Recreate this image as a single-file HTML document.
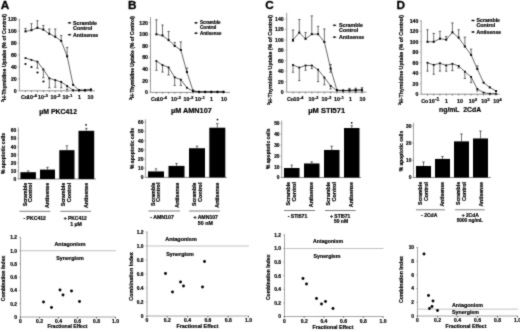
<!DOCTYPE html>
<html><head><meta charset="utf-8"><style>
html,body{margin:0;padding:0;background:#fff;}
svg{display:block;font-family:"Liberation Sans",sans-serif;}
</style></head><body>
<svg width="520" height="332" viewBox="0 0 520 332">
<defs><filter id="b" x="0" y="0" width="520" height="332" filterUnits="userSpaceOnUse" color-interpolation-filters="sRGB"><feConvolveMatrix order="3" kernelMatrix="0.4 1 0.4 1 7 1 0.4 1 0.4" divisor="12.6" edgeMode="duplicate" preserveAlpha="true"/></filter></defs>
<rect width="520" height="332" fill="#fff"/>
<g filter="url(#b)">
<rect width="520" height="332" fill="#fff"/>
<line x1="19.4" y1="18.8" x2="19.4" y2="90.8" stroke="#666" stroke-width="0.65"/>
<line x1="19.4" y1="90.8" x2="95" y2="90.8" stroke="#555" stroke-width="0.65"/>
<line x1="18.2" y1="90.8" x2="19.4" y2="90.8" stroke="#666" stroke-width="0.5"/>
<text x="16.7" y="92.64999999999999" font-size="5.2" text-anchor="end" font-weight="bold" fill="#000" stroke="#000" stroke-width="0.2">0</text>
<line x1="18.2" y1="78.92" x2="19.4" y2="78.92" stroke="#666" stroke-width="0.5"/>
<text x="16.7" y="80.77" font-size="5.2" text-anchor="end" font-weight="bold" fill="#000" stroke="#000" stroke-width="0.2">20</text>
<line x1="18.2" y1="67.03999999999999" x2="19.4" y2="67.03999999999999" stroke="#666" stroke-width="0.5"/>
<text x="16.7" y="68.88999999999999" font-size="5.2" text-anchor="end" font-weight="bold" fill="#000" stroke="#000" stroke-width="0.2">40</text>
<line x1="18.2" y1="55.16" x2="19.4" y2="55.16" stroke="#666" stroke-width="0.5"/>
<text x="16.7" y="57.01" font-size="5.2" text-anchor="end" font-weight="bold" fill="#000" stroke="#000" stroke-width="0.2">60</text>
<line x1="18.2" y1="43.28" x2="19.4" y2="43.28" stroke="#666" stroke-width="0.5"/>
<text x="16.7" y="45.13" font-size="5.2" text-anchor="end" font-weight="bold" fill="#000" stroke="#000" stroke-width="0.2">80</text>
<line x1="18.2" y1="31.4" x2="19.4" y2="31.4" stroke="#666" stroke-width="0.5"/>
<text x="16.7" y="33.25" font-size="5.2" text-anchor="end" font-weight="bold" fill="#000" stroke="#000" stroke-width="0.2">100</text>
<line x1="18.2" y1="19.519999999999996" x2="19.4" y2="19.519999999999996" stroke="#666" stroke-width="0.5"/>
<text x="16.7" y="21.369999999999997" font-size="5.2" text-anchor="end" font-weight="bold" fill="#000" stroke="#000" stroke-width="0.2">120</text>
<line x1="25.5" y1="90.8" x2="25.5" y2="92.1" stroke="#000" stroke-width="0.5"/>
<line x1="31.45" y1="90.8" x2="31.45" y2="92.1" stroke="#000" stroke-width="0.5"/>
<line x1="37.4" y1="90.8" x2="37.4" y2="92.1" stroke="#000" stroke-width="0.5"/>
<line x1="43.35" y1="90.8" x2="43.35" y2="92.1" stroke="#000" stroke-width="0.5"/>
<line x1="49.3" y1="90.8" x2="49.3" y2="92.1" stroke="#000" stroke-width="0.5"/>
<line x1="55.25" y1="90.8" x2="55.25" y2="92.1" stroke="#000" stroke-width="0.5"/>
<line x1="61.2" y1="90.8" x2="61.2" y2="92.1" stroke="#000" stroke-width="0.5"/>
<line x1="67.15" y1="90.8" x2="67.15" y2="92.1" stroke="#000" stroke-width="0.5"/>
<line x1="73.1" y1="90.8" x2="73.1" y2="92.1" stroke="#000" stroke-width="0.5"/>
<line x1="79.05000000000001" y1="90.8" x2="79.05000000000001" y2="92.1" stroke="#000" stroke-width="0.5"/>
<line x1="85.0" y1="90.8" x2="85.0" y2="92.1" stroke="#000" stroke-width="0.5"/>
<line x1="90.95" y1="90.8" x2="90.95" y2="92.1" stroke="#000" stroke-width="0.5"/>
<polyline points="25.5,31.4 31.4,30.2 37.4,27.8 43.4,29.6 49.3,33.8 55.2,36.7 61.2,40.9 67.2,56.3 73.1,84.9 79.1,90.2 85.0,90.2 91.0,89.6" fill="none" stroke="#000" stroke-width="0.6"/>
<polyline points="25.5,58.1 31.4,59.9 37.4,61.7 43.4,69.4 49.3,78.3 55.2,80.1 61.2,81.9 67.2,86.0 73.1,90.2 79.1,90.2 85.0,90.2 91.0,89.6" fill="none" stroke="#000" stroke-width="0.6"/>
<line x1="25.5" y1="31.4" x2="25.5" y2="28.43" stroke="#111" stroke-width="0.6"/>
<line x1="24.3" y1="28.43" x2="26.7" y2="28.43" stroke="#111" stroke-width="0.6"/>
<rect x="24.5" y="30.4" width="2" height="2" fill="#000"/>
<line x1="31.45" y1="30.212000000000003" x2="31.45" y2="23.677999999999997" stroke="#111" stroke-width="0.6"/>
<line x1="30.25" y1="23.677999999999997" x2="32.65" y2="23.677999999999997" stroke="#111" stroke-width="0.6"/>
<rect x="30.45" y="29.212000000000003" width="2" height="2" fill="#000"/>
<line x1="37.4" y1="27.836" x2="37.4" y2="20.708" stroke="#111" stroke-width="0.6"/>
<line x1="36.199999999999996" y1="20.708" x2="38.6" y2="20.708" stroke="#111" stroke-width="0.6"/>
<rect x="36.4" y="26.836" width="2" height="2" fill="#000"/>
<line x1="43.35" y1="29.618000000000002" x2="43.35" y2="25.459999999999994" stroke="#111" stroke-width="0.6"/>
<line x1="42.15" y1="25.459999999999994" x2="44.550000000000004" y2="25.459999999999994" stroke="#111" stroke-width="0.6"/>
<rect x="42.35" y="28.618000000000002" width="2" height="2" fill="#000"/>
<line x1="49.3" y1="33.775999999999996" x2="49.3" y2="29.024" stroke="#111" stroke-width="0.6"/>
<line x1="48.099999999999994" y1="29.024" x2="50.5" y2="29.024" stroke="#111" stroke-width="0.6"/>
<rect x="48.3" y="32.775999999999996" width="2" height="2" fill="#000"/>
<line x1="55.25" y1="36.746" x2="55.25" y2="29.024" stroke="#111" stroke-width="0.6"/>
<line x1="54.05" y1="29.024" x2="56.45" y2="29.024" stroke="#111" stroke-width="0.6"/>
<rect x="54.25" y="35.746" width="2" height="2" fill="#000"/>
<line x1="61.2" y1="40.903999999999996" x2="61.2" y2="35.558" stroke="#111" stroke-width="0.6"/>
<line x1="60.0" y1="35.558" x2="62.400000000000006" y2="35.558" stroke="#111" stroke-width="0.6"/>
<rect x="60.2" y="39.903999999999996" width="2" height="2" fill="#000"/>
<line x1="67.15" y1="56.348" x2="67.15" y2="47.438" stroke="#111" stroke-width="0.6"/>
<line x1="65.95" y1="47.438" x2="68.35000000000001" y2="47.438" stroke="#111" stroke-width="0.6"/>
<rect x="66.15" y="55.348" width="2" height="2" fill="#000"/>
<rect x="72.1" y="83.86" width="2" height="2" fill="#000"/>
<rect x="78.05000000000001" y="89.206" width="2" height="2" fill="#000"/>
<rect x="84.0" y="89.206" width="2" height="2" fill="#000"/>
<rect x="89.95" y="88.612" width="2" height="2" fill="#000"/>
<rect x="24.6" y="57.23" width="1.8" height="1.8" fill="#000"/>
<rect x="30.55" y="59.012" width="1.8" height="1.8" fill="#000"/>
<line x1="37.4" y1="61.694" x2="37.4" y2="68.228" stroke="#111" stroke-width="0.6"/>
<line x1="36.199999999999996" y1="68.228" x2="38.6" y2="68.228" stroke="#111" stroke-width="0.6"/>
<rect x="36.5" y="60.794000000000004" width="1.8" height="1.8" fill="#000"/>
<line x1="43.35" y1="69.416" x2="43.35" y2="77.732" stroke="#111" stroke-width="0.6"/>
<line x1="42.15" y1="77.732" x2="44.550000000000004" y2="77.732" stroke="#111" stroke-width="0.6"/>
<rect x="42.45" y="68.51599999999999" width="1.8" height="1.8" fill="#000"/>
<line x1="49.3" y1="78.326" x2="49.3" y2="87.83" stroke="#111" stroke-width="0.6"/>
<line x1="48.099999999999994" y1="87.83" x2="50.5" y2="87.83" stroke="#111" stroke-width="0.6"/>
<rect x="48.4" y="77.42599999999999" width="1.8" height="1.8" fill="#000"/>
<line x1="55.25" y1="80.108" x2="55.25" y2="87.23599999999999" stroke="#111" stroke-width="0.6"/>
<line x1="54.05" y1="87.23599999999999" x2="56.45" y2="87.23599999999999" stroke="#111" stroke-width="0.6"/>
<rect x="54.35" y="79.208" width="1.8" height="1.8" fill="#000"/>
<line x1="61.2" y1="81.89" x2="61.2" y2="87.83" stroke="#111" stroke-width="0.6"/>
<line x1="60.0" y1="87.83" x2="62.400000000000006" y2="87.83" stroke="#111" stroke-width="0.6"/>
<rect x="60.300000000000004" y="80.99" width="1.8" height="1.8" fill="#000"/>
<line x1="67.15" y1="86.048" x2="67.15" y2="89.612" stroke="#111" stroke-width="0.6"/>
<line x1="65.95" y1="89.612" x2="68.35000000000001" y2="89.612" stroke="#111" stroke-width="0.6"/>
<rect x="66.25" y="85.148" width="1.8" height="1.8" fill="#000"/>
<rect x="72.19999999999999" y="89.306" width="1.8" height="1.8" fill="#000"/>
<rect x="78.15" y="89.306" width="1.8" height="1.8" fill="#000"/>
<rect x="84.1" y="89.306" width="1.8" height="1.8" fill="#000"/>
<rect x="90.05" y="88.71199999999999" width="1.8" height="1.8" fill="#000"/>
<line x1="67.7" y1="22.8" x2="71.3" y2="22.8" stroke="#000" stroke-width="0.7"/>
<rect x="68.7" y="22.0" width="1.6" height="1.6" fill="#000"/>
<text x="73.0" y="24.744" font-size="5.4" text-anchor="start" textLength="24" lengthAdjust="spacingAndGlyphs" font-weight="bold" fill="#000" stroke="#000" stroke-width="0.2">Scramble</text>
<text x="73.0" y="29.544" font-size="5.4" text-anchor="start" textLength="19.200000000000003" lengthAdjust="spacingAndGlyphs" font-weight="bold" fill="#000" stroke="#000" stroke-width="0.2">Control</text>
<line x1="67.7" y1="34.7" x2="71.3" y2="34.7" stroke="#000" stroke-width="0.7"/>
<rect x="68.7" y="33.900000000000006" width="1.6" height="1.6" fill="#000"/>
<text x="73.0" y="36.644000000000005" font-size="5.4" text-anchor="start" textLength="25.200000000000003" lengthAdjust="spacingAndGlyphs" font-weight="bold" fill="#000" stroke="#000" stroke-width="0.2">Antisense</text>
<text x="24.5" y="99.2" font-size="5.3" text-anchor="middle" font-weight="bold" fill="#000" stroke="#000" stroke-width="0.2">Co</text>
<text x="32" y="99.2" font-size="5.3" text-anchor="middle" font-weight="bold" fill="#000" stroke="#000" stroke-width="0.2">10<tspan dy="-1.9" font-size="4.4">-4</tspan></text>
<text x="43" y="99.2" font-size="5.3" text-anchor="middle" font-weight="bold" fill="#000" stroke="#000" stroke-width="0.2">10<tspan dy="-1.9" font-size="4.4">-3</tspan></text>
<text x="55.5" y="99.2" font-size="5.3" text-anchor="middle" font-weight="bold" fill="#000" stroke="#000" stroke-width="0.2">10<tspan dy="-1.9" font-size="4.4">-2</tspan></text>
<text x="67.5" y="99.2" font-size="5.3" text-anchor="middle" font-weight="bold" fill="#000" stroke="#000" stroke-width="0.2">10<tspan dy="-1.9" font-size="4.4">-1</tspan></text>
<text x="79.5" y="99.2" font-size="5.3" text-anchor="middle" font-weight="bold" fill="#000" stroke="#000" stroke-width="0.2">1</text>
<text x="90.5" y="99.2" font-size="5.3" text-anchor="middle" font-weight="bold" fill="#000" stroke="#000" stroke-width="0.2">10</text>
<text x="58.2" y="113.8" font-size="6.7" text-anchor="middle" textLength="37.7" lengthAdjust="spacingAndGlyphs" font-weight="bold" fill="#000" stroke="#000" stroke-width="0.2">µM PKC412</text>
<text x="5.6" y="58" font-size="5.3" text-anchor="middle" transform="rotate(-90 5.6 58)" textLength="88" lengthAdjust="spacingAndGlyphs" font-weight="bold" fill="#000" stroke="#000" stroke-width="0.2"><tspan dy="-1.5" font-size="3.4">3</tspan><tspan dy="1.5">H-Thymidine Uptake (% of Control)</tspan></text>
<text x="0.7" y="8.6" font-size="11.8" text-anchor="start" font-weight="bold" fill="#000" stroke="#000" stroke-width="0.3">A</text>
<circle cx="25.5" cy="64" r="1.1" fill="#000"/>
<circle cx="31.5" cy="67" r="1.1" fill="#000"/>
<circle cx="37.5" cy="72.5" r="1.1" fill="#000"/>
<circle cx="43.5" cy="81.5" r="1.1" fill="#000"/>
<line x1="150.5" y1="17.2" x2="150.5" y2="92.4" stroke="#666" stroke-width="0.65"/>
<line x1="150.5" y1="92.4" x2="230" y2="92.4" stroke="#555" stroke-width="0.65"/>
<line x1="149.3" y1="92.4" x2="150.5" y2="92.4" stroke="#666" stroke-width="0.5"/>
<text x="148.0" y="94.25" font-size="5.2" text-anchor="end" font-weight="bold" fill="#000" stroke="#000" stroke-width="0.2">0</text>
<line x1="149.3" y1="80.78" x2="150.5" y2="80.78" stroke="#666" stroke-width="0.5"/>
<text x="148.0" y="82.63" font-size="5.2" text-anchor="end" font-weight="bold" fill="#000" stroke="#000" stroke-width="0.2">20</text>
<line x1="149.3" y1="69.16000000000001" x2="150.5" y2="69.16000000000001" stroke="#666" stroke-width="0.5"/>
<text x="148.0" y="71.01" font-size="5.2" text-anchor="end" font-weight="bold" fill="#000" stroke="#000" stroke-width="0.2">40</text>
<line x1="149.3" y1="57.540000000000006" x2="150.5" y2="57.540000000000006" stroke="#666" stroke-width="0.5"/>
<text x="148.0" y="59.39000000000001" font-size="5.2" text-anchor="end" font-weight="bold" fill="#000" stroke="#000" stroke-width="0.2">60</text>
<line x1="149.3" y1="45.92000000000001" x2="150.5" y2="45.92000000000001" stroke="#666" stroke-width="0.5"/>
<text x="148.0" y="47.77000000000001" font-size="5.2" text-anchor="end" font-weight="bold" fill="#000" stroke="#000" stroke-width="0.2">80</text>
<line x1="149.3" y1="34.30000000000001" x2="150.5" y2="34.30000000000001" stroke="#666" stroke-width="0.5"/>
<text x="148.0" y="36.15000000000001" font-size="5.2" text-anchor="end" font-weight="bold" fill="#000" stroke="#000" stroke-width="0.2">100</text>
<line x1="149.3" y1="22.680000000000007" x2="150.5" y2="22.680000000000007" stroke="#666" stroke-width="0.5"/>
<text x="148.0" y="24.53000000000001" font-size="5.2" text-anchor="end" font-weight="bold" fill="#000" stroke="#000" stroke-width="0.2">120</text>
<line x1="156.4" y1="92.4" x2="156.4" y2="93.7" stroke="#000" stroke-width="0.5"/>
<line x1="162.5" y1="92.4" x2="162.5" y2="93.7" stroke="#000" stroke-width="0.5"/>
<line x1="168.6" y1="92.4" x2="168.6" y2="93.7" stroke="#000" stroke-width="0.5"/>
<line x1="174.7" y1="92.4" x2="174.7" y2="93.7" stroke="#000" stroke-width="0.5"/>
<line x1="180.8" y1="92.4" x2="180.8" y2="93.7" stroke="#000" stroke-width="0.5"/>
<line x1="186.9" y1="92.4" x2="186.9" y2="93.7" stroke="#000" stroke-width="0.5"/>
<line x1="193.0" y1="92.4" x2="193.0" y2="93.7" stroke="#000" stroke-width="0.5"/>
<line x1="199.1" y1="92.4" x2="199.1" y2="93.7" stroke="#000" stroke-width="0.5"/>
<line x1="205.2" y1="92.4" x2="205.2" y2="93.7" stroke="#000" stroke-width="0.5"/>
<line x1="211.3" y1="92.4" x2="211.3" y2="93.7" stroke="#000" stroke-width="0.5"/>
<line x1="217.4" y1="92.4" x2="217.4" y2="93.7" stroke="#000" stroke-width="0.5"/>
<line x1="223.5" y1="92.4" x2="223.5" y2="93.7" stroke="#000" stroke-width="0.5"/>
<polyline points="156.4,34.3 162.5,35.5 168.6,40.1 174.7,45.9 180.8,50.0 186.9,72.1 193.0,90.7 199.1,91.8 205.2,91.8 211.3,91.8 217.4,91.8 223.5,91.8" fill="none" stroke="#000" stroke-width="0.6"/>
<polyline points="156.4,61.0 162.5,65.1 168.6,67.4 174.7,77.3 180.8,79.6 186.9,87.8 193.0,91.2 199.1,91.8 205.2,91.8 211.3,91.8 217.4,91.8 223.5,91.8" fill="none" stroke="#000" stroke-width="0.6"/>
<line x1="156.4" y1="34.30000000000001" x2="156.4" y2="19.775000000000006" stroke="#111" stroke-width="0.6"/>
<line x1="155.20000000000002" y1="19.775000000000006" x2="157.6" y2="19.775000000000006" stroke="#111" stroke-width="0.6"/>
<rect x="155.4" y="33.30000000000001" width="2" height="2" fill="#000"/>
<line x1="162.5" y1="35.46200000000001" x2="162.5" y2="25.004000000000005" stroke="#111" stroke-width="0.6"/>
<line x1="161.3" y1="25.004000000000005" x2="163.7" y2="25.004000000000005" stroke="#111" stroke-width="0.6"/>
<rect x="161.5" y="34.46200000000001" width="2" height="2" fill="#000"/>
<line x1="168.6" y1="40.11000000000001" x2="168.6" y2="31.39500000000001" stroke="#111" stroke-width="0.6"/>
<line x1="167.4" y1="31.39500000000001" x2="169.79999999999998" y2="31.39500000000001" stroke="#111" stroke-width="0.6"/>
<rect x="167.6" y="39.11000000000001" width="2" height="2" fill="#000"/>
<line x1="174.7" y1="45.92000000000001" x2="174.7" y2="42.43400000000001" stroke="#111" stroke-width="0.6"/>
<line x1="173.5" y1="42.43400000000001" x2="175.89999999999998" y2="42.43400000000001" stroke="#111" stroke-width="0.6"/>
<rect x="173.7" y="44.92000000000001" width="2" height="2" fill="#000"/>
<line x1="180.8" y1="49.98700000000001" x2="180.8" y2="41.85300000000001" stroke="#111" stroke-width="0.6"/>
<line x1="179.60000000000002" y1="41.85300000000001" x2="182.0" y2="41.85300000000001" stroke="#111" stroke-width="0.6"/>
<rect x="179.8" y="48.98700000000001" width="2" height="2" fill="#000"/>
<line x1="186.9" y1="72.06500000000001" x2="186.9" y2="67.998" stroke="#111" stroke-width="0.6"/>
<line x1="185.70000000000002" y1="67.998" x2="188.1" y2="67.998" stroke="#111" stroke-width="0.6"/>
<rect x="185.9" y="71.06500000000001" width="2" height="2" fill="#000"/>
<rect x="192.0" y="89.65700000000001" width="2" height="2" fill="#000"/>
<rect x="198.1" y="90.819" width="2" height="2" fill="#000"/>
<rect x="204.2" y="90.819" width="2" height="2" fill="#000"/>
<rect x="210.3" y="90.819" width="2" height="2" fill="#000"/>
<rect x="216.4" y="90.819" width="2" height="2" fill="#000"/>
<rect x="222.5" y="90.819" width="2" height="2" fill="#000"/>
<line x1="156.4" y1="61.02600000000001" x2="156.4" y2="70.322" stroke="#111" stroke-width="0.6"/>
<line x1="155.20000000000002" y1="70.322" x2="157.6" y2="70.322" stroke="#111" stroke-width="0.6"/>
<rect x="155.5" y="60.12600000000001" width="1.8" height="1.8" fill="#000"/>
<line x1="162.5" y1="65.093" x2="162.5" y2="72.06500000000001" stroke="#111" stroke-width="0.6"/>
<line x1="161.3" y1="72.06500000000001" x2="163.7" y2="72.06500000000001" stroke="#111" stroke-width="0.6"/>
<rect x="161.6" y="64.193" width="1.8" height="1.8" fill="#000"/>
<line x1="168.6" y1="67.417" x2="168.6" y2="74.97" stroke="#111" stroke-width="0.6"/>
<line x1="167.4" y1="74.97" x2="169.79999999999998" y2="74.97" stroke="#111" stroke-width="0.6"/>
<rect x="167.7" y="66.517" width="1.8" height="1.8" fill="#000"/>
<line x1="174.7" y1="77.29400000000001" x2="174.7" y2="85.42800000000001" stroke="#111" stroke-width="0.6"/>
<line x1="173.5" y1="85.42800000000001" x2="175.89999999999998" y2="85.42800000000001" stroke="#111" stroke-width="0.6"/>
<rect x="173.79999999999998" y="76.394" width="1.8" height="1.8" fill="#000"/>
<line x1="180.8" y1="79.61800000000001" x2="180.8" y2="85.42800000000001" stroke="#111" stroke-width="0.6"/>
<line x1="179.60000000000002" y1="85.42800000000001" x2="182.0" y2="85.42800000000001" stroke="#111" stroke-width="0.6"/>
<rect x="179.9" y="78.718" width="1.8" height="1.8" fill="#000"/>
<rect x="186.0" y="86.852" width="1.8" height="1.8" fill="#000"/>
<rect x="192.1" y="90.338" width="1.8" height="1.8" fill="#000"/>
<rect x="198.2" y="90.919" width="1.8" height="1.8" fill="#000"/>
<rect x="204.29999999999998" y="90.919" width="1.8" height="1.8" fill="#000"/>
<rect x="210.4" y="90.919" width="1.8" height="1.8" fill="#000"/>
<rect x="216.5" y="90.919" width="1.8" height="1.8" fill="#000"/>
<rect x="222.6" y="90.919" width="1.8" height="1.8" fill="#000"/>
<line x1="194.2" y1="22.8" x2="197.8" y2="22.8" stroke="#000" stroke-width="0.7"/>
<rect x="195.2" y="22.0" width="1.6" height="1.6" fill="#000"/>
<text x="200" y="24.492" font-size="4.7" text-anchor="start" textLength="20.5" lengthAdjust="spacingAndGlyphs" font-weight="bold" fill="#000" stroke="#000" stroke-width="0.2">Scramble</text>
<text x="200" y="28.892" font-size="4.7" text-anchor="start" textLength="16.400000000000002" lengthAdjust="spacingAndGlyphs" font-weight="bold" fill="#000" stroke="#000" stroke-width="0.2">Control</text>
<line x1="194.2" y1="33.2" x2="197.8" y2="33.2" stroke="#000" stroke-width="0.7"/>
<rect x="195.2" y="32.400000000000006" width="1.6" height="1.6" fill="#000"/>
<text x="200" y="34.892" font-size="4.7" text-anchor="start" textLength="21.525000000000002" lengthAdjust="spacingAndGlyphs" font-weight="bold" fill="#000" stroke="#000" stroke-width="0.2">Antisense</text>
<text x="154.5" y="100.80000000000001" font-size="5.3" text-anchor="middle" font-weight="bold" fill="#000" stroke="#000" stroke-width="0.2">Co</text>
<text x="162" y="100.80000000000001" font-size="5.3" text-anchor="middle" font-weight="bold" fill="#000" stroke="#000" stroke-width="0.2">10<tspan dy="-1.9" font-size="4.4">-4</tspan></text>
<text x="176" y="100.80000000000001" font-size="5.3" text-anchor="middle" font-weight="bold" fill="#000" stroke="#000" stroke-width="0.2">10<tspan dy="-1.9" font-size="4.4">-3</tspan></text>
<text x="188.5" y="100.80000000000001" font-size="5.3" text-anchor="middle" font-weight="bold" fill="#000" stroke="#000" stroke-width="0.2">10<tspan dy="-1.9" font-size="4.4">-2</tspan></text>
<text x="200" y="100.80000000000001" font-size="5.3" text-anchor="middle" font-weight="bold" fill="#000" stroke="#000" stroke-width="0.2">10<tspan dy="-1.9" font-size="4.4">-1</tspan></text>
<text x="211.5" y="100.80000000000001" font-size="5.3" text-anchor="middle" font-weight="bold" fill="#000" stroke="#000" stroke-width="0.2">1</text>
<text x="224" y="100.80000000000001" font-size="5.3" text-anchor="middle" font-weight="bold" fill="#000" stroke="#000" stroke-width="0.2">10</text>
<text x="191.4" y="112.7" font-size="6.8" text-anchor="middle" textLength="40.7" lengthAdjust="spacingAndGlyphs" font-weight="bold" fill="#000" stroke="#000" stroke-width="0.2">µM AMN107</text>
<text x="133.7" y="58" font-size="4.8" text-anchor="middle" transform="rotate(-90 133.7 58)" textLength="84" lengthAdjust="spacingAndGlyphs" font-weight="bold" fill="#000" stroke="#000" stroke-width="0.2"><tspan dy="-1.5" font-size="3.4">3</tspan><tspan dy="1.5">H-Thymidine Uptake (% of Control)</tspan></text>
<text x="127.9" y="8.6" font-size="11.8" text-anchor="start" font-weight="bold" fill="#000" stroke="#000" stroke-width="0.3">B</text>
<line x1="286.7" y1="12.8" x2="286.7" y2="92.1" stroke="#666" stroke-width="0.65"/>
<line x1="286.7" y1="92.1" x2="366.5" y2="92.1" stroke="#555" stroke-width="0.65"/>
<line x1="285.5" y1="92.1" x2="286.7" y2="92.1" stroke="#666" stroke-width="0.5"/>
<text x="283.7" y="93.94999999999999" font-size="5.2" text-anchor="end" font-weight="bold" fill="#000" stroke="#000" stroke-width="0.2">0</text>
<line x1="285.5" y1="81.66" x2="286.7" y2="81.66" stroke="#666" stroke-width="0.5"/>
<text x="283.7" y="83.50999999999999" font-size="5.2" text-anchor="end" font-weight="bold" fill="#000" stroke="#000" stroke-width="0.2">20</text>
<line x1="285.5" y1="71.22" x2="286.7" y2="71.22" stroke="#666" stroke-width="0.5"/>
<text x="283.7" y="73.07" font-size="5.2" text-anchor="end" font-weight="bold" fill="#000" stroke="#000" stroke-width="0.2">40</text>
<line x1="285.5" y1="60.779999999999994" x2="286.7" y2="60.779999999999994" stroke="#666" stroke-width="0.5"/>
<text x="283.7" y="62.629999999999995" font-size="5.2" text-anchor="end" font-weight="bold" fill="#000" stroke="#000" stroke-width="0.2">60</text>
<line x1="285.5" y1="50.33999999999999" x2="286.7" y2="50.33999999999999" stroke="#666" stroke-width="0.5"/>
<text x="283.7" y="52.18999999999999" font-size="5.2" text-anchor="end" font-weight="bold" fill="#000" stroke="#000" stroke-width="0.2">80</text>
<line x1="285.5" y1="39.89999999999999" x2="286.7" y2="39.89999999999999" stroke="#666" stroke-width="0.5"/>
<text x="283.7" y="41.74999999999999" font-size="5.2" text-anchor="end" font-weight="bold" fill="#000" stroke="#000" stroke-width="0.2">100</text>
<line x1="285.5" y1="29.459999999999994" x2="286.7" y2="29.459999999999994" stroke="#666" stroke-width="0.5"/>
<text x="283.7" y="31.309999999999995" font-size="5.2" text-anchor="end" font-weight="bold" fill="#000" stroke="#000" stroke-width="0.2">120</text>
<line x1="285.5" y1="19.019999999999996" x2="286.7" y2="19.019999999999996" stroke="#666" stroke-width="0.5"/>
<text x="283.7" y="20.869999999999997" font-size="5.2" text-anchor="end" font-weight="bold" fill="#000" stroke="#000" stroke-width="0.2">140</text>
<line x1="293.0" y1="92.1" x2="293.0" y2="93.39999999999999" stroke="#000" stroke-width="0.5"/>
<line x1="299.27" y1="92.1" x2="299.27" y2="93.39999999999999" stroke="#000" stroke-width="0.5"/>
<line x1="305.54" y1="92.1" x2="305.54" y2="93.39999999999999" stroke="#000" stroke-width="0.5"/>
<line x1="311.81" y1="92.1" x2="311.81" y2="93.39999999999999" stroke="#000" stroke-width="0.5"/>
<line x1="318.08" y1="92.1" x2="318.08" y2="93.39999999999999" stroke="#000" stroke-width="0.5"/>
<line x1="324.35" y1="92.1" x2="324.35" y2="93.39999999999999" stroke="#000" stroke-width="0.5"/>
<line x1="330.62" y1="92.1" x2="330.62" y2="93.39999999999999" stroke="#000" stroke-width="0.5"/>
<line x1="336.89" y1="92.1" x2="336.89" y2="93.39999999999999" stroke="#000" stroke-width="0.5"/>
<line x1="343.15999999999997" y1="92.1" x2="343.15999999999997" y2="93.39999999999999" stroke="#000" stroke-width="0.5"/>
<line x1="349.43" y1="92.1" x2="349.43" y2="93.39999999999999" stroke="#000" stroke-width="0.5"/>
<line x1="355.7" y1="92.1" x2="355.7" y2="93.39999999999999" stroke="#000" stroke-width="0.5"/>
<line x1="361.97" y1="92.1" x2="361.97" y2="93.39999999999999" stroke="#000" stroke-width="0.5"/>
<polyline points="293.0,39.9 299.3,32.6 305.5,38.9 311.8,34.2 318.1,34.2 324.4,42.0 330.6,68.6 336.9,90.0 343.2,90.5 349.4,90.3 355.7,90.0 362.0,89.8" fill="none" stroke="#000" stroke-width="0.6"/>
<polyline points="293.0,65.0 299.3,67.6 305.5,65.5 311.8,65.5 318.1,69.7 324.4,77.5 330.6,85.8 336.9,90.5 343.2,90.5 349.4,90.5 355.7,90.3 362.0,90.0" fill="none" stroke="#000" stroke-width="0.6"/>
<line x1="293.0" y1="39.89999999999999" x2="293.0" y2="29.981999999999992" stroke="#111" stroke-width="0.6"/>
<line x1="291.8" y1="29.981999999999992" x2="294.2" y2="29.981999999999992" stroke="#111" stroke-width="0.6"/>
<rect x="292.0" y="38.89999999999999" width="2" height="2" fill="#000"/>
<line x1="299.27" y1="32.59199999999999" x2="299.27" y2="19.541999999999987" stroke="#111" stroke-width="0.6"/>
<line x1="298.07" y1="19.541999999999987" x2="300.46999999999997" y2="19.541999999999987" stroke="#111" stroke-width="0.6"/>
<rect x="298.27" y="31.59199999999999" width="2" height="2" fill="#000"/>
<line x1="305.54" y1="38.855999999999995" x2="305.54" y2="32.59199999999999" stroke="#111" stroke-width="0.6"/>
<line x1="304.34000000000003" y1="32.59199999999999" x2="306.74" y2="32.59199999999999" stroke="#111" stroke-width="0.6"/>
<rect x="304.54" y="37.855999999999995" width="2" height="2" fill="#000"/>
<line x1="311.81" y1="34.157999999999994" x2="311.81" y2="15.887999999999991" stroke="#111" stroke-width="0.6"/>
<line x1="310.61" y1="15.887999999999991" x2="313.01" y2="15.887999999999991" stroke="#111" stroke-width="0.6"/>
<rect x="310.81" y="33.157999999999994" width="2" height="2" fill="#000"/>
<line x1="318.08" y1="34.157999999999994" x2="318.08" y2="26.32799999999999" stroke="#111" stroke-width="0.6"/>
<line x1="316.88" y1="26.32799999999999" x2="319.28" y2="26.32799999999999" stroke="#111" stroke-width="0.6"/>
<rect x="317.08" y="33.157999999999994" width="2" height="2" fill="#000"/>
<line x1="324.35" y1="41.98799999999999" x2="324.35" y2="28.937999999999995" stroke="#111" stroke-width="0.6"/>
<line x1="323.15000000000003" y1="28.937999999999995" x2="325.55" y2="28.937999999999995" stroke="#111" stroke-width="0.6"/>
<rect x="323.35" y="40.98799999999999" width="2" height="2" fill="#000"/>
<line x1="330.62" y1="68.60999999999999" x2="330.62" y2="64.434" stroke="#111" stroke-width="0.6"/>
<line x1="329.42" y1="64.434" x2="331.82" y2="64.434" stroke="#111" stroke-width="0.6"/>
<rect x="329.62" y="67.60999999999999" width="2" height="2" fill="#000"/>
<rect x="335.89" y="89.012" width="2" height="2" fill="#000"/>
<rect x="342.15999999999997" y="89.53399999999999" width="2" height="2" fill="#000"/>
<rect x="348.43" y="89.273" width="2" height="2" fill="#000"/>
<rect x="354.7" y="89.012" width="2" height="2" fill="#000"/>
<rect x="360.97" y="88.75099999999999" width="2" height="2" fill="#000"/>
<line x1="293.0" y1="64.95599999999999" x2="293.0" y2="72.264" stroke="#111" stroke-width="0.6"/>
<line x1="291.8" y1="72.264" x2="294.2" y2="72.264" stroke="#111" stroke-width="0.6"/>
<rect x="292.1" y="64.05599999999998" width="1.8" height="1.8" fill="#000"/>
<line x1="299.27" y1="67.56599999999999" x2="299.27" y2="80.616" stroke="#111" stroke-width="0.6"/>
<line x1="298.07" y1="80.616" x2="300.46999999999997" y2="80.616" stroke="#111" stroke-width="0.6"/>
<rect x="298.37" y="66.66599999999998" width="1.8" height="1.8" fill="#000"/>
<line x1="305.54" y1="65.478" x2="305.54" y2="70.17599999999999" stroke="#111" stroke-width="0.6"/>
<line x1="304.34000000000003" y1="70.17599999999999" x2="306.74" y2="70.17599999999999" stroke="#111" stroke-width="0.6"/>
<rect x="304.64000000000004" y="64.57799999999999" width="1.8" height="1.8" fill="#000"/>
<line x1="311.81" y1="65.478" x2="311.81" y2="68.60999999999999" stroke="#111" stroke-width="0.6"/>
<line x1="310.61" y1="68.60999999999999" x2="313.01" y2="68.60999999999999" stroke="#111" stroke-width="0.6"/>
<rect x="310.91" y="64.57799999999999" width="1.8" height="1.8" fill="#000"/>
<line x1="318.08" y1="69.654" x2="318.08" y2="81.66" stroke="#111" stroke-width="0.6"/>
<line x1="316.88" y1="81.66" x2="319.28" y2="81.66" stroke="#111" stroke-width="0.6"/>
<rect x="317.18" y="68.75399999999999" width="1.8" height="1.8" fill="#000"/>
<line x1="324.35" y1="77.484" x2="324.35" y2="84.792" stroke="#111" stroke-width="0.6"/>
<line x1="323.15000000000003" y1="84.792" x2="325.55" y2="84.792" stroke="#111" stroke-width="0.6"/>
<rect x="323.45000000000005" y="76.58399999999999" width="1.8" height="1.8" fill="#000"/>
<line x1="330.62" y1="85.836" x2="330.62" y2="88.96799999999999" stroke="#111" stroke-width="0.6"/>
<line x1="329.42" y1="88.96799999999999" x2="331.82" y2="88.96799999999999" stroke="#111" stroke-width="0.6"/>
<rect x="329.72" y="84.93599999999999" width="1.8" height="1.8" fill="#000"/>
<rect x="335.99" y="89.63399999999999" width="1.8" height="1.8" fill="#000"/>
<rect x="342.26" y="89.63399999999999" width="1.8" height="1.8" fill="#000"/>
<rect x="348.53000000000003" y="89.63399999999999" width="1.8" height="1.8" fill="#000"/>
<rect x="354.8" y="89.37299999999999" width="1.8" height="1.8" fill="#000"/>
<rect x="361.07000000000005" y="89.112" width="1.8" height="1.8" fill="#000"/>
<line x1="293.0" y1="39.89999999999999" x2="293.0" y2="41.465999999999994" stroke="#111" stroke-width="0.6"/>
<line x1="291.8" y1="41.465999999999994" x2="294.2" y2="41.465999999999994" stroke="#111" stroke-width="0.6"/>
<line x1="330.62" y1="68.60999999999999" x2="330.62" y2="72.264" stroke="#111" stroke-width="0.6"/>
<line x1="329.42" y1="72.264" x2="331.82" y2="72.264" stroke="#111" stroke-width="0.6"/>
<line x1="349.43" y1="90.53399999999999" x2="349.43" y2="88.446" stroke="#111" stroke-width="0.6"/>
<line x1="348.23" y1="88.446" x2="350.63" y2="88.446" stroke="#111" stroke-width="0.6"/>
<line x1="355.7" y1="90.273" x2="355.7" y2="88.18499999999999" stroke="#111" stroke-width="0.6"/>
<line x1="354.5" y1="88.18499999999999" x2="356.9" y2="88.18499999999999" stroke="#111" stroke-width="0.6"/>
<line x1="361.97" y1="90.012" x2="361.97" y2="87.663" stroke="#111" stroke-width="0.6"/>
<line x1="360.77000000000004" y1="87.663" x2="363.17" y2="87.663" stroke="#111" stroke-width="0.6"/>
<line x1="361.97" y1="90.012" x2="361.97" y2="91.839" stroke="#111" stroke-width="0.6"/>
<line x1="360.77000000000004" y1="91.839" x2="363.17" y2="91.839" stroke="#111" stroke-width="0.6"/>
<line x1="355.7" y1="90.273" x2="355.7" y2="91.839" stroke="#111" stroke-width="0.6"/>
<line x1="354.5" y1="91.839" x2="356.9" y2="91.839" stroke="#111" stroke-width="0.6"/>
<line x1="332.7" y1="25.3" x2="336.3" y2="25.3" stroke="#000" stroke-width="0.7"/>
<rect x="333.7" y="24.5" width="1.6" height="1.6" fill="#000"/>
<text x="339.0" y="27.244" font-size="5.4" text-anchor="start" textLength="24" lengthAdjust="spacingAndGlyphs" font-weight="bold" fill="#000" stroke="#000" stroke-width="0.2">Scramble</text>
<text x="339.0" y="32.444" font-size="5.4" text-anchor="start" textLength="19.200000000000003" lengthAdjust="spacingAndGlyphs" font-weight="bold" fill="#000" stroke="#000" stroke-width="0.2">Control</text>
<line x1="332.7" y1="37.2" x2="336.3" y2="37.2" stroke="#000" stroke-width="0.7"/>
<rect x="333.7" y="36.400000000000006" width="1.6" height="1.6" fill="#000"/>
<text x="339.0" y="39.144000000000005" font-size="5.4" text-anchor="start" textLength="25.200000000000003" lengthAdjust="spacingAndGlyphs" font-weight="bold" fill="#000" stroke="#000" stroke-width="0.2">Antisense</text>
<text x="290.5" y="100.5" font-size="5.3" text-anchor="middle" font-weight="bold" fill="#000" stroke="#000" stroke-width="0.2">Co</text>
<text x="298.5" y="100.5" font-size="5.3" text-anchor="middle" font-weight="bold" fill="#000" stroke="#000" stroke-width="0.2">10<tspan dy="-1.9" font-size="4.4">-4</tspan></text>
<text x="313.5" y="100.5" font-size="5.3" text-anchor="middle" font-weight="bold" fill="#000" stroke="#000" stroke-width="0.2">10<tspan dy="-1.9" font-size="4.4">-3</tspan></text>
<text x="326.5" y="100.5" font-size="5.3" text-anchor="middle" font-weight="bold" fill="#000" stroke="#000" stroke-width="0.2">10<tspan dy="-1.9" font-size="4.4">-2</tspan></text>
<text x="339" y="100.5" font-size="5.3" text-anchor="middle" font-weight="bold" fill="#000" stroke="#000" stroke-width="0.2">10<tspan dy="-1.9" font-size="4.4">-1</tspan></text>
<text x="350.5" y="100.5" font-size="5.3" text-anchor="middle" font-weight="bold" fill="#000" stroke="#000" stroke-width="0.2">1</text>
<text x="362.5" y="100.5" font-size="5.3" text-anchor="middle" font-weight="bold" fill="#000" stroke="#000" stroke-width="0.2">10</text>
<text x="326.7" y="112.7" font-size="6.9" text-anchor="middle" textLength="37" lengthAdjust="spacingAndGlyphs" font-weight="bold" fill="#000" stroke="#000" stroke-width="0.2">µM STI571</text>
<text x="271.7" y="60" font-size="5.3" text-anchor="middle" transform="rotate(-90 271.7 60)" textLength="90" lengthAdjust="spacingAndGlyphs" font-weight="bold" fill="#000" stroke="#000" stroke-width="0.2"><tspan dy="-1.5" font-size="3.4">3</tspan><tspan dy="1.5">H-Thymidine Uptake (% of Control)</tspan></text>
<text x="265.2" y="8.7" font-size="11.8" text-anchor="start" font-weight="bold" fill="#000" stroke="#000" stroke-width="0.3">C</text>
<line x1="421.2" y1="20.2" x2="421.2" y2="94.2" stroke="#666" stroke-width="0.65"/>
<line x1="421.2" y1="94.2" x2="499.7" y2="94.2" stroke="#555" stroke-width="0.65"/>
<line x1="420.0" y1="94.2" x2="421.2" y2="94.2" stroke="#666" stroke-width="0.5"/>
<text x="418.3" y="96.05" font-size="5.2" text-anchor="end" font-weight="bold" fill="#000" stroke="#000" stroke-width="0.2">0</text>
<line x1="420.0" y1="83.72" x2="421.2" y2="83.72" stroke="#666" stroke-width="0.5"/>
<text x="418.3" y="85.57" font-size="5.2" text-anchor="end" font-weight="bold" fill="#000" stroke="#000" stroke-width="0.2">20</text>
<line x1="420.0" y1="73.24000000000001" x2="421.2" y2="73.24000000000001" stroke="#666" stroke-width="0.5"/>
<text x="418.3" y="75.09" font-size="5.2" text-anchor="end" font-weight="bold" fill="#000" stroke="#000" stroke-width="0.2">40</text>
<line x1="420.0" y1="62.760000000000005" x2="421.2" y2="62.760000000000005" stroke="#666" stroke-width="0.5"/>
<text x="418.3" y="64.61" font-size="5.2" text-anchor="end" font-weight="bold" fill="#000" stroke="#000" stroke-width="0.2">60</text>
<line x1="420.0" y1="52.28" x2="421.2" y2="52.28" stroke="#666" stroke-width="0.5"/>
<text x="418.3" y="54.13" font-size="5.2" text-anchor="end" font-weight="bold" fill="#000" stroke="#000" stroke-width="0.2">80</text>
<line x1="420.0" y1="41.8" x2="421.2" y2="41.8" stroke="#666" stroke-width="0.5"/>
<text x="418.3" y="43.65" font-size="5.2" text-anchor="end" font-weight="bold" fill="#000" stroke="#000" stroke-width="0.2">100</text>
<line x1="420.0" y1="31.32" x2="421.2" y2="31.32" stroke="#666" stroke-width="0.5"/>
<text x="418.3" y="33.17" font-size="5.2" text-anchor="end" font-weight="bold" fill="#000" stroke="#000" stroke-width="0.2">120</text>
<line x1="420.0" y1="20.840000000000003" x2="421.2" y2="20.840000000000003" stroke="#666" stroke-width="0.5"/>
<text x="418.3" y="22.690000000000005" font-size="5.2" text-anchor="end" font-weight="bold" fill="#000" stroke="#000" stroke-width="0.2">140</text>
<line x1="427.5" y1="94.2" x2="427.5" y2="95.5" stroke="#000" stroke-width="0.5"/>
<line x1="433.73" y1="94.2" x2="433.73" y2="95.5" stroke="#000" stroke-width="0.5"/>
<line x1="439.96" y1="94.2" x2="439.96" y2="95.5" stroke="#000" stroke-width="0.5"/>
<line x1="446.19" y1="94.2" x2="446.19" y2="95.5" stroke="#000" stroke-width="0.5"/>
<line x1="452.42" y1="94.2" x2="452.42" y2="95.5" stroke="#000" stroke-width="0.5"/>
<line x1="458.65" y1="94.2" x2="458.65" y2="95.5" stroke="#000" stroke-width="0.5"/>
<line x1="464.88" y1="94.2" x2="464.88" y2="95.5" stroke="#000" stroke-width="0.5"/>
<line x1="471.11" y1="94.2" x2="471.11" y2="95.5" stroke="#000" stroke-width="0.5"/>
<line x1="477.34000000000003" y1="94.2" x2="477.34000000000003" y2="95.5" stroke="#000" stroke-width="0.5"/>
<line x1="483.57" y1="94.2" x2="483.57" y2="95.5" stroke="#000" stroke-width="0.5"/>
<line x1="489.8" y1="94.2" x2="489.8" y2="95.5" stroke="#000" stroke-width="0.5"/>
<line x1="496.03" y1="94.2" x2="496.03" y2="95.5" stroke="#000" stroke-width="0.5"/>
<polyline points="427.5,41.8 433.7,41.8 440.0,38.7 446.2,39.7 452.4,32.4 458.6,37.6 464.9,46.5 471.1,54.9 477.3,69.0 483.6,82.7 489.8,87.4 496.0,91.1" fill="none" stroke="#000" stroke-width="0.6"/>
<polyline points="427.5,62.8 433.7,64.9 440.0,63.3 446.2,65.4 452.4,63.8 458.6,65.9 464.9,71.7 471.1,76.9 477.3,89.0 483.6,92.6 489.8,93.7 496.0,93.7" fill="none" stroke="#000" stroke-width="0.6"/>
<line x1="427.5" y1="41.8" x2="427.5" y2="29.748000000000005" stroke="#111" stroke-width="0.6"/>
<line x1="426.3" y1="29.748000000000005" x2="428.7" y2="29.748000000000005" stroke="#111" stroke-width="0.6"/>
<rect x="426.5" y="40.8" width="2" height="2" fill="#000"/>
<line x1="433.73" y1="41.8" x2="433.73" y2="33.416" stroke="#111" stroke-width="0.6"/>
<line x1="432.53000000000003" y1="33.416" x2="434.93" y2="33.416" stroke="#111" stroke-width="0.6"/>
<rect x="432.73" y="40.8" width="2" height="2" fill="#000"/>
<line x1="439.96" y1="38.656" x2="439.96" y2="31.32" stroke="#111" stroke-width="0.6"/>
<line x1="438.76" y1="31.32" x2="441.15999999999997" y2="31.32" stroke="#111" stroke-width="0.6"/>
<rect x="438.96" y="37.656" width="2" height="2" fill="#000"/>
<line x1="446.19" y1="39.704" x2="446.19" y2="36.56" stroke="#111" stroke-width="0.6"/>
<line x1="444.99" y1="36.56" x2="447.39" y2="36.56" stroke="#111" stroke-width="0.6"/>
<rect x="445.19" y="38.704" width="2" height="2" fill="#000"/>
<line x1="452.42" y1="32.368" x2="452.42" y2="22.935999999999993" stroke="#111" stroke-width="0.6"/>
<line x1="451.22" y1="22.935999999999993" x2="453.62" y2="22.935999999999993" stroke="#111" stroke-width="0.6"/>
<rect x="451.42" y="31.368000000000002" width="2" height="2" fill="#000"/>
<line x1="458.65" y1="37.608000000000004" x2="458.65" y2="29.748000000000005" stroke="#111" stroke-width="0.6"/>
<line x1="457.45" y1="29.748000000000005" x2="459.84999999999997" y2="29.748000000000005" stroke="#111" stroke-width="0.6"/>
<rect x="457.65" y="36.608000000000004" width="2" height="2" fill="#000"/>
<line x1="464.88" y1="46.516" x2="464.88" y2="37.084" stroke="#111" stroke-width="0.6"/>
<line x1="463.68" y1="37.084" x2="466.08" y2="37.084" stroke="#111" stroke-width="0.6"/>
<rect x="463.88" y="45.516" width="2" height="2" fill="#000"/>
<line x1="471.11" y1="54.9" x2="471.11" y2="49.136" stroke="#111" stroke-width="0.6"/>
<line x1="469.91" y1="49.136" x2="472.31" y2="49.136" stroke="#111" stroke-width="0.6"/>
<rect x="470.11" y="53.9" width="2" height="2" fill="#000"/>
<line x1="477.34000000000003" y1="69.048" x2="477.34000000000003" y2="65.904" stroke="#111" stroke-width="0.6"/>
<line x1="476.14000000000004" y1="65.904" x2="478.54" y2="65.904" stroke="#111" stroke-width="0.6"/>
<rect x="476.34000000000003" y="68.048" width="2" height="2" fill="#000"/>
<rect x="482.57" y="81.672" width="2" height="2" fill="#000"/>
<rect x="488.8" y="86.388" width="2" height="2" fill="#000"/>
<rect x="495.03" y="90.056" width="2" height="2" fill="#000"/>
<line x1="427.5" y1="62.760000000000005" x2="427.5" y2="71.144" stroke="#111" stroke-width="0.6"/>
<line x1="426.3" y1="71.144" x2="428.7" y2="71.144" stroke="#111" stroke-width="0.6"/>
<rect x="426.6" y="61.86000000000001" width="1.8" height="1.8" fill="#000"/>
<line x1="433.73" y1="64.856" x2="433.73" y2="74.28800000000001" stroke="#111" stroke-width="0.6"/>
<line x1="432.53000000000003" y1="74.28800000000001" x2="434.93" y2="74.28800000000001" stroke="#111" stroke-width="0.6"/>
<rect x="432.83000000000004" y="63.955999999999996" width="1.8" height="1.8" fill="#000"/>
<line x1="439.96" y1="63.284000000000006" x2="439.96" y2="71.144" stroke="#111" stroke-width="0.6"/>
<line x1="438.76" y1="71.144" x2="441.15999999999997" y2="71.144" stroke="#111" stroke-width="0.6"/>
<rect x="439.06" y="62.38400000000001" width="1.8" height="1.8" fill="#000"/>
<line x1="446.19" y1="65.38" x2="446.19" y2="71.144" stroke="#111" stroke-width="0.6"/>
<line x1="444.99" y1="71.144" x2="447.39" y2="71.144" stroke="#111" stroke-width="0.6"/>
<rect x="445.29" y="64.47999999999999" width="1.8" height="1.8" fill="#000"/>
<line x1="452.42" y1="63.808" x2="452.42" y2="70.62" stroke="#111" stroke-width="0.6"/>
<line x1="451.22" y1="70.62" x2="453.62" y2="70.62" stroke="#111" stroke-width="0.6"/>
<rect x="451.52000000000004" y="62.908" width="1.8" height="1.8" fill="#000"/>
<line x1="458.65" y1="65.904" x2="458.65" y2="68.0" stroke="#111" stroke-width="0.6"/>
<line x1="457.45" y1="68.0" x2="459.84999999999997" y2="68.0" stroke="#111" stroke-width="0.6"/>
<rect x="457.75" y="65.00399999999999" width="1.8" height="1.8" fill="#000"/>
<line x1="464.88" y1="71.668" x2="464.88" y2="78.48" stroke="#111" stroke-width="0.6"/>
<line x1="463.68" y1="78.48" x2="466.08" y2="78.48" stroke="#111" stroke-width="0.6"/>
<rect x="463.98" y="70.768" width="1.8" height="1.8" fill="#000"/>
<line x1="471.11" y1="76.908" x2="471.11" y2="82.672" stroke="#111" stroke-width="0.6"/>
<line x1="469.91" y1="82.672" x2="472.31" y2="82.672" stroke="#111" stroke-width="0.6"/>
<rect x="470.21000000000004" y="76.008" width="1.8" height="1.8" fill="#000"/>
<line x1="477.34000000000003" y1="88.96000000000001" x2="477.34000000000003" y2="91.056" stroke="#111" stroke-width="0.6"/>
<line x1="476.14000000000004" y1="91.056" x2="478.54" y2="91.056" stroke="#111" stroke-width="0.6"/>
<rect x="476.44000000000005" y="88.06" width="1.8" height="1.8" fill="#000"/>
<rect x="482.67" y="91.728" width="1.8" height="1.8" fill="#000"/>
<rect x="488.90000000000003" y="92.776" width="1.8" height="1.8" fill="#000"/>
<rect x="495.13" y="92.776" width="1.8" height="1.8" fill="#000"/>
<line x1="471.2" y1="20.5" x2="474.8" y2="20.5" stroke="#000" stroke-width="0.7"/>
<rect x="472.2" y="19.7" width="1.6" height="1.6" fill="#000"/>
<text x="476.5" y="22.372" font-size="5.2" text-anchor="start" textLength="23.5" lengthAdjust="spacingAndGlyphs" font-weight="bold" fill="#000" stroke="#000" stroke-width="0.2">Scramble</text>
<text x="476.5" y="27.072" font-size="5.2" text-anchor="start" textLength="18.8" lengthAdjust="spacingAndGlyphs" font-weight="bold" fill="#000" stroke="#000" stroke-width="0.2">Control</text>
<line x1="471.2" y1="32" x2="474.8" y2="32" stroke="#000" stroke-width="0.7"/>
<rect x="472.2" y="31.2" width="1.6" height="1.6" fill="#000"/>
<text x="476.5" y="33.872" font-size="5.2" text-anchor="start" textLength="24.675" lengthAdjust="spacingAndGlyphs" font-weight="bold" fill="#000" stroke="#000" stroke-width="0.2">Antisense</text>
<text x="424.7" y="102.60000000000001" font-size="5.3" text-anchor="middle" font-weight="bold" fill="#000" stroke="#000" stroke-width="0.2">Co</text>
<text x="434" y="102.60000000000001" font-size="5.3" text-anchor="middle" font-weight="bold" fill="#000" stroke="#000" stroke-width="0.2">10<tspan dy="-1.3" font-size="5">-1</tspan></text>
<text x="446.5" y="102.60000000000001" font-size="5.3" text-anchor="middle" font-weight="bold" fill="#000" stroke="#000" stroke-width="0.2">1</text>
<text x="460" y="102.60000000000001" font-size="5.3" text-anchor="middle" font-weight="bold" fill="#000" stroke="#000" stroke-width="0.2">10</text>
<text x="473" y="102.60000000000001" font-size="5.3" text-anchor="middle" font-weight="bold" fill="#000" stroke="#000" stroke-width="0.2">10<tspan dy="-1.9" font-size="4.4">2</tspan></text>
<text x="485.5" y="102.60000000000001" font-size="5.3" text-anchor="middle" font-weight="bold" fill="#000" stroke="#000" stroke-width="0.2">10<tspan dy="-1.9" font-size="4.4">3</tspan></text>
<text x="497.5" y="102.60000000000001" font-size="5.3" text-anchor="middle" font-weight="bold" fill="#000" stroke="#000" stroke-width="0.2">10<tspan dy="-1.9" font-size="4.4">4</tspan></text>
<text x="460.1" y="112.3" font-size="6.6" text-anchor="middle" textLength="42" lengthAdjust="spacingAndGlyphs" font-weight="bold" fill="#000" stroke="#000" stroke-width="0.2">ng/mL&#160;&#160;2CdA</text>
<text x="402.5" y="60" font-size="5.3" text-anchor="middle" transform="rotate(-90 402.5 60)" textLength="90" lengthAdjust="spacingAndGlyphs" font-weight="bold" fill="#000" stroke="#000" stroke-width="0.2"><tspan dy="-1.5" font-size="3.4">3</tspan><tspan dy="1.5">H-Thymidine Uptake (% of Control)</tspan></text>
<text x="396.4" y="8.6" font-size="11.8" text-anchor="start" font-weight="bold" fill="#000" stroke="#000" stroke-width="0.3">D</text>
<line x1="18.4" y1="127.4" x2="18.4" y2="179" stroke="#666" stroke-width="0.6"/>
<line x1="18.4" y1="179" x2="96" y2="179" stroke="#333" stroke-width="0.6"/>
<line x1="17.4" y1="179.0" x2="18.4" y2="179.0" stroke="#555" stroke-width="0.5"/>
<text x="16.299999999999997" y="180.9" font-size="4.9" text-anchor="end" font-weight="bold" fill="#000" stroke="#000" stroke-width="0.2">0</text>
<line x1="17.4" y1="170.9" x2="18.4" y2="170.9" stroke="#555" stroke-width="0.5"/>
<text x="16.299999999999997" y="172.8" font-size="4.9" text-anchor="end" font-weight="bold" fill="#000" stroke="#000" stroke-width="0.2">10</text>
<line x1="17.4" y1="162.8" x2="18.4" y2="162.8" stroke="#555" stroke-width="0.5"/>
<text x="16.299999999999997" y="164.70000000000002" font-size="4.9" text-anchor="end" font-weight="bold" fill="#000" stroke="#000" stroke-width="0.2">20</text>
<line x1="17.4" y1="154.7" x2="18.4" y2="154.7" stroke="#555" stroke-width="0.5"/>
<text x="16.299999999999997" y="156.6" font-size="4.9" text-anchor="end" font-weight="bold" fill="#000" stroke="#000" stroke-width="0.2">30</text>
<line x1="17.4" y1="146.6" x2="18.4" y2="146.6" stroke="#555" stroke-width="0.5"/>
<text x="16.299999999999997" y="148.5" font-size="4.9" text-anchor="end" font-weight="bold" fill="#000" stroke="#000" stroke-width="0.2">40</text>
<line x1="17.4" y1="138.5" x2="18.4" y2="138.5" stroke="#555" stroke-width="0.5"/>
<text x="16.299999999999997" y="140.4" font-size="4.9" text-anchor="end" font-weight="bold" fill="#000" stroke="#000" stroke-width="0.2">50</text>
<line x1="17.4" y1="130.4" x2="18.4" y2="130.4" stroke="#555" stroke-width="0.5"/>
<text x="16.299999999999997" y="132.3" font-size="4.9" text-anchor="end" font-weight="bold" fill="#000" stroke="#000" stroke-width="0.2">60</text>
<line x1="28.15" y1="172.196" x2="28.15" y2="170.9" stroke="#111" stroke-width="0.6"/>
<line x1="26.849999999999998" y1="170.9" x2="29.45" y2="170.9" stroke="#111" stroke-width="0.6"/>
<rect x="20.4" y="172.196" width="15.5" height="6.804000000000002" fill="#000"/>
<line x1="47.5" y1="169.60399999999998" x2="47.5" y2="167.255" stroke="#111" stroke-width="0.6"/>
<line x1="46.2" y1="167.255" x2="48.8" y2="167.255" stroke="#111" stroke-width="0.6"/>
<rect x="40" y="169.60399999999998" width="15" height="9.396000000000015" fill="#000"/>
<line x1="66.9" y1="150.164" x2="66.9" y2="145.79" stroke="#111" stroke-width="0.6"/>
<line x1="65.60000000000001" y1="145.79" x2="68.2" y2="145.79" stroke="#111" stroke-width="0.6"/>
<rect x="59.3" y="150.164" width="15.200000000000003" height="28.836000000000013" fill="#000"/>
<line x1="86.35" y1="130.805" x2="86.35" y2="128.375" stroke="#111" stroke-width="0.6"/>
<line x1="85.05" y1="128.375" x2="87.64999999999999" y2="128.375" stroke="#111" stroke-width="0.6"/>
<rect x="78.5" y="130.805" width="15.700000000000003" height="48.19499999999999" fill="#000"/>
<circle cx="86" cy="124.8" r="0.9" fill="#000"/>
<text x="26.6" y="182.8" font-size="5" text-anchor="end" transform="rotate(-90 26.6 182.8)" textLength="23.5" lengthAdjust="spacingAndGlyphs" font-weight="bold" fill="#000" stroke="#000" stroke-width="0.2">Scramble</text>
<text x="32.1" y="182.8" font-size="5" text-anchor="end" transform="rotate(-90 32.1 182.8)" textLength="19.505" lengthAdjust="spacingAndGlyphs" font-weight="bold" fill="#000" stroke="#000" stroke-width="0.2">Control</text>
<text x="48.6" y="182.8" font-size="5" text-anchor="end" transform="rotate(-90 48.6 182.8)" textLength="25.145000000000003" lengthAdjust="spacingAndGlyphs" font-weight="bold" fill="#000" stroke="#000" stroke-width="0.2">Antisense</text>
<text x="65.39999999999999" y="182.8" font-size="5" text-anchor="end" transform="rotate(-90 65.39999999999999 182.8)" textLength="23.5" lengthAdjust="spacingAndGlyphs" font-weight="bold" fill="#000" stroke="#000" stroke-width="0.2">Scramble</text>
<text x="71.19999999999999" y="182.8" font-size="5" text-anchor="end" transform="rotate(-90 71.19999999999999 182.8)" textLength="19.505" lengthAdjust="spacingAndGlyphs" font-weight="bold" fill="#000" stroke="#000" stroke-width="0.2">Control</text>
<text x="88.1" y="182.8" font-size="5" text-anchor="end" transform="rotate(-90 88.1 182.8)" textLength="25.145000000000003" lengthAdjust="spacingAndGlyphs" font-weight="bold" fill="#000" stroke="#000" stroke-width="0.2">Antisense</text>
<line x1="19.5" y1="211.3" x2="50.3" y2="211.3" stroke="#111" stroke-width="0.55"/>
<line x1="60.3" y1="211.3" x2="91" y2="211.3" stroke="#111" stroke-width="0.55"/>
<text x="34.7" y="220" font-size="5.2" text-anchor="middle" textLength="22.4" lengthAdjust="spacingAndGlyphs" font-weight="bold" fill="#000" stroke="#000" stroke-width="0.2">- PKC412</text>
<text x="75.2" y="220" font-size="5.2" text-anchor="middle" textLength="23" lengthAdjust="spacingAndGlyphs" font-weight="bold" fill="#000" stroke="#000" stroke-width="0.2">+ PKC412</text>
<text x="76" y="226.4" font-size="5.2" text-anchor="middle" font-weight="bold" fill="#000" stroke="#000" stroke-width="0.2">1 µM</text>
<text x="5.0" y="153.5" font-size="5" text-anchor="middle" transform="rotate(-90 5.0 153.5)" textLength="41" lengthAdjust="spacingAndGlyphs" font-weight="bold" fill="#000" stroke="#000" stroke-width="0.2">% apoptotic cells</text>
<line x1="145.6" y1="119.2" x2="145.6" y2="177.4" stroke="#666" stroke-width="0.6"/>
<line x1="145.6" y1="177.4" x2="227" y2="177.4" stroke="#333" stroke-width="0.6"/>
<line x1="144.6" y1="177.4" x2="145.6" y2="177.4" stroke="#555" stroke-width="0.5"/>
<text x="143.5" y="179.3" font-size="4.9" text-anchor="end" font-weight="bold" fill="#000" stroke="#000" stroke-width="0.2">0</text>
<line x1="144.6" y1="168.20000000000002" x2="145.6" y2="168.20000000000002" stroke="#555" stroke-width="0.5"/>
<text x="143.5" y="170.10000000000002" font-size="4.9" text-anchor="end" font-weight="bold" fill="#000" stroke="#000" stroke-width="0.2">10</text>
<line x1="144.6" y1="159.0" x2="145.6" y2="159.0" stroke="#555" stroke-width="0.5"/>
<text x="143.5" y="160.9" font-size="4.9" text-anchor="end" font-weight="bold" fill="#000" stroke="#000" stroke-width="0.2">20</text>
<line x1="144.6" y1="149.8" x2="145.6" y2="149.8" stroke="#555" stroke-width="0.5"/>
<text x="143.5" y="151.70000000000002" font-size="4.9" text-anchor="end" font-weight="bold" fill="#000" stroke="#000" stroke-width="0.2">30</text>
<line x1="144.6" y1="140.6" x2="145.6" y2="140.6" stroke="#555" stroke-width="0.5"/>
<text x="143.5" y="142.5" font-size="4.9" text-anchor="end" font-weight="bold" fill="#000" stroke="#000" stroke-width="0.2">40</text>
<line x1="144.6" y1="131.4" x2="145.6" y2="131.4" stroke="#555" stroke-width="0.5"/>
<text x="143.5" y="133.3" font-size="4.9" text-anchor="end" font-weight="bold" fill="#000" stroke="#000" stroke-width="0.2">50</text>
<line x1="144.6" y1="122.2" x2="145.6" y2="122.2" stroke="#555" stroke-width="0.5"/>
<text x="143.5" y="124.10000000000001" font-size="4.9" text-anchor="end" font-weight="bold" fill="#000" stroke="#000" stroke-width="0.2">60</text>
<line x1="156.0" y1="171.42000000000002" x2="156.0" y2="168.844" stroke="#111" stroke-width="0.6"/>
<line x1="154.7" y1="168.844" x2="157.3" y2="168.844" stroke="#111" stroke-width="0.6"/>
<rect x="148" y="171.42000000000002" width="16" height="5.97999999999999" fill="#000"/>
<line x1="176.5" y1="165.9" x2="176.5" y2="163.416" stroke="#111" stroke-width="0.6"/>
<line x1="175.2" y1="163.416" x2="177.8" y2="163.416" stroke="#111" stroke-width="0.6"/>
<rect x="168.5" y="165.9" width="16.0" height="11.5" fill="#000"/>
<line x1="197.0" y1="148.236" x2="197.0" y2="146.12" stroke="#111" stroke-width="0.6"/>
<line x1="195.7" y1="146.12" x2="198.3" y2="146.12" stroke="#111" stroke-width="0.6"/>
<rect x="189" y="148.236" width="16" height="29.164000000000016" fill="#000"/>
<line x1="217.3" y1="127.72" x2="217.3" y2="123.58000000000001" stroke="#111" stroke-width="0.6"/>
<line x1="216.0" y1="123.58000000000001" x2="218.60000000000002" y2="123.58000000000001" stroke="#111" stroke-width="0.6"/>
<rect x="209.3" y="127.72" width="16.0" height="49.68000000000001" fill="#000"/>
<circle cx="217.5" cy="119.6" r="0.9" fill="#000"/>
<text x="154.6" y="182.5" font-size="5" text-anchor="end" transform="rotate(-90 154.6 182.5)" textLength="23.5" lengthAdjust="spacingAndGlyphs" font-weight="bold" fill="#000" stroke="#000" stroke-width="0.2">Scramble</text>
<text x="160.1" y="182.5" font-size="5" text-anchor="end" transform="rotate(-90 160.1 182.5)" textLength="19.505" lengthAdjust="spacingAndGlyphs" font-weight="bold" fill="#000" stroke="#000" stroke-width="0.2">Control</text>
<text x="178.6" y="182.5" font-size="5" text-anchor="end" transform="rotate(-90 178.6 182.5)" textLength="25.145000000000003" lengthAdjust="spacingAndGlyphs" font-weight="bold" fill="#000" stroke="#000" stroke-width="0.2">Antisense</text>
<text x="195.9" y="182.5" font-size="5" text-anchor="end" transform="rotate(-90 195.9 182.5)" textLength="23.5" lengthAdjust="spacingAndGlyphs" font-weight="bold" fill="#000" stroke="#000" stroke-width="0.2">Scramble</text>
<text x="201.6" y="182.5" font-size="5" text-anchor="end" transform="rotate(-90 201.6 182.5)" textLength="19.505" lengthAdjust="spacingAndGlyphs" font-weight="bold" fill="#000" stroke="#000" stroke-width="0.2">Control</text>
<text x="219.1" y="182.5" font-size="5" text-anchor="end" transform="rotate(-90 219.1 182.5)" textLength="25.145000000000003" lengthAdjust="spacingAndGlyphs" font-weight="bold" fill="#000" stroke="#000" stroke-width="0.2">Antisense</text>
<line x1="148.5" y1="211" x2="180" y2="211" stroke="#111" stroke-width="0.55"/>
<line x1="189.2" y1="211" x2="220" y2="211" stroke="#111" stroke-width="0.55"/>
<text x="162" y="219" font-size="5.3" text-anchor="middle" textLength="23.7" lengthAdjust="spacingAndGlyphs" font-weight="bold" fill="#000" stroke="#000" stroke-width="0.2">- AMN107</text>
<text x="205.7" y="219" font-size="5.3" text-anchor="middle" textLength="24.6" lengthAdjust="spacingAndGlyphs" font-weight="bold" fill="#000" stroke="#000" stroke-width="0.2">+ AMN107</text>
<text x="205.3" y="224.7" font-size="5.3" text-anchor="middle" font-weight="bold" fill="#000" stroke="#000" stroke-width="0.2">50 nM</text>
<text x="133.7" y="148.5" font-size="5" text-anchor="middle" transform="rotate(-90 133.7 148.5)" textLength="41" lengthAdjust="spacingAndGlyphs" font-weight="bold" fill="#000" stroke="#000" stroke-width="0.2">% apoptotic cells</text>
<line x1="281.7" y1="120.5" x2="281.7" y2="177.5" stroke="#666" stroke-width="0.6"/>
<line x1="281.7" y1="177.5" x2="361" y2="177.5" stroke="#333" stroke-width="0.6"/>
<line x1="280.7" y1="177.5" x2="281.7" y2="177.5" stroke="#555" stroke-width="0.5"/>
<text x="279.59999999999997" y="179.4" font-size="4.9" text-anchor="end" font-weight="bold" fill="#000" stroke="#000" stroke-width="0.2">0</text>
<line x1="280.7" y1="166.7" x2="281.7" y2="166.7" stroke="#555" stroke-width="0.5"/>
<text x="279.59999999999997" y="168.6" font-size="4.9" text-anchor="end" font-weight="bold" fill="#000" stroke="#000" stroke-width="0.2">10</text>
<line x1="280.7" y1="155.9" x2="281.7" y2="155.9" stroke="#555" stroke-width="0.5"/>
<text x="279.59999999999997" y="157.8" font-size="4.9" text-anchor="end" font-weight="bold" fill="#000" stroke="#000" stroke-width="0.2">20</text>
<line x1="280.7" y1="145.1" x2="281.7" y2="145.1" stroke="#555" stroke-width="0.5"/>
<text x="279.59999999999997" y="147.0" font-size="4.9" text-anchor="end" font-weight="bold" fill="#000" stroke="#000" stroke-width="0.2">30</text>
<line x1="280.7" y1="134.3" x2="281.7" y2="134.3" stroke="#555" stroke-width="0.5"/>
<text x="279.59999999999997" y="136.20000000000002" font-size="4.9" text-anchor="end" font-weight="bold" fill="#000" stroke="#000" stroke-width="0.2">40</text>
<line x1="280.7" y1="123.5" x2="281.7" y2="123.5" stroke="#555" stroke-width="0.5"/>
<text x="279.59999999999997" y="125.4" font-size="4.9" text-anchor="end" font-weight="bold" fill="#000" stroke="#000" stroke-width="0.2">50</text>
<line x1="291.75" y1="167.996" x2="291.75" y2="165.07999999999998" stroke="#111" stroke-width="0.6"/>
<line x1="290.45" y1="165.07999999999998" x2="293.05" y2="165.07999999999998" stroke="#111" stroke-width="0.6"/>
<rect x="284" y="167.996" width="15.5" height="9.50399999999999" fill="#000"/>
<line x1="311.75" y1="163.46" x2="311.75" y2="161.84" stroke="#111" stroke-width="0.6"/>
<line x1="310.45" y1="161.84" x2="313.05" y2="161.84" stroke="#111" stroke-width="0.6"/>
<rect x="304" y="163.46" width="15.5" height="14.039999999999992" fill="#000"/>
<line x1="331.75" y1="149.96" x2="331.75" y2="146.18" stroke="#111" stroke-width="0.6"/>
<line x1="330.45" y1="146.18" x2="333.05" y2="146.18" stroke="#111" stroke-width="0.6"/>
<rect x="324" y="149.96" width="15.5" height="27.539999999999992" fill="#000"/>
<line x1="351.75" y1="128.036" x2="351.75" y2="125.66" stroke="#111" stroke-width="0.6"/>
<line x1="350.45" y1="125.66" x2="353.05" y2="125.66" stroke="#111" stroke-width="0.6"/>
<rect x="344" y="128.036" width="15.5" height="49.464" fill="#000"/>
<circle cx="351.7" cy="122.8" r="0.9" fill="#000"/>
<text x="290.3" y="182" font-size="5" text-anchor="end" transform="rotate(-90 290.3 182)" textLength="23.5" lengthAdjust="spacingAndGlyphs" font-weight="bold" fill="#000" stroke="#000" stroke-width="0.2">Scramble</text>
<text x="295.90000000000003" y="182" font-size="5" text-anchor="end" transform="rotate(-90 295.90000000000003 182)" textLength="19.505" lengthAdjust="spacingAndGlyphs" font-weight="bold" fill="#000" stroke="#000" stroke-width="0.2">Control</text>
<text x="313.3" y="182" font-size="5" text-anchor="end" transform="rotate(-90 313.3 182)" textLength="25.145000000000003" lengthAdjust="spacingAndGlyphs" font-weight="bold" fill="#000" stroke="#000" stroke-width="0.2">Antisense</text>
<text x="329.90000000000003" y="182" font-size="5" text-anchor="end" transform="rotate(-90 329.90000000000003 182)" textLength="23.5" lengthAdjust="spacingAndGlyphs" font-weight="bold" fill="#000" stroke="#000" stroke-width="0.2">Scramble</text>
<text x="335.6" y="182" font-size="5" text-anchor="end" transform="rotate(-90 335.6 182)" textLength="19.505" lengthAdjust="spacingAndGlyphs" font-weight="bold" fill="#000" stroke="#000" stroke-width="0.2">Control</text>
<text x="353.3" y="182" font-size="5" text-anchor="end" transform="rotate(-90 353.3 182)" textLength="25.145000000000003" lengthAdjust="spacingAndGlyphs" font-weight="bold" fill="#000" stroke="#000" stroke-width="0.2">Antisense</text>
<line x1="284" y1="210.5" x2="315" y2="210.5" stroke="#111" stroke-width="0.55"/>
<line x1="325" y1="210.5" x2="355.7" y2="210.5" stroke="#111" stroke-width="0.55"/>
<text x="297.5" y="217.8" font-size="5" text-anchor="middle" textLength="19.5" lengthAdjust="spacingAndGlyphs" font-weight="bold" fill="#000" stroke="#000" stroke-width="0.2">- STI571</text>
<text x="340.2" y="217.8" font-size="5" text-anchor="middle" textLength="20.4" lengthAdjust="spacingAndGlyphs" font-weight="bold" fill="#000" stroke="#000" stroke-width="0.2">+ STI571</text>
<text x="341" y="222.9" font-size="5" text-anchor="middle" font-weight="bold" fill="#000" stroke="#000" stroke-width="0.2">50 nM</text>
<text x="270.4" y="148.7" font-size="5" text-anchor="middle" transform="rotate(-90 270.4 148.7)" textLength="40.5" lengthAdjust="spacingAndGlyphs" font-weight="bold" fill="#000" stroke="#000" stroke-width="0.2">% apoptotic cells</text>
<line x1="413.5" y1="122.9" x2="413.5" y2="177.5" stroke="#666" stroke-width="0.6"/>
<line x1="413.5" y1="177.5" x2="491" y2="177.5" stroke="#333" stroke-width="0.6"/>
<line x1="412.5" y1="177.5" x2="413.5" y2="177.5" stroke="#555" stroke-width="0.5"/>
<text x="411.4" y="179.4" font-size="4.9" text-anchor="end" font-weight="bold" fill="#000" stroke="#000" stroke-width="0.2">0</text>
<line x1="412.5" y1="160.3" x2="413.5" y2="160.3" stroke="#555" stroke-width="0.5"/>
<text x="411.4" y="162.20000000000002" font-size="4.9" text-anchor="end" font-weight="bold" fill="#000" stroke="#000" stroke-width="0.2">10</text>
<line x1="412.5" y1="143.1" x2="413.5" y2="143.1" stroke="#555" stroke-width="0.5"/>
<text x="411.4" y="145.0" font-size="4.9" text-anchor="end" font-weight="bold" fill="#000" stroke="#000" stroke-width="0.2">20</text>
<line x1="412.5" y1="125.9" x2="413.5" y2="125.9" stroke="#555" stroke-width="0.5"/>
<text x="411.4" y="127.80000000000001" font-size="4.9" text-anchor="end" font-weight="bold" fill="#000" stroke="#000" stroke-width="0.2">30</text>
<line x1="423.5" y1="165.976" x2="423.5" y2="162.02" stroke="#111" stroke-width="0.6"/>
<line x1="422.2" y1="162.02" x2="424.8" y2="162.02" stroke="#111" stroke-width="0.6"/>
<rect x="416" y="165.976" width="15" height="11.524000000000001" fill="#000"/>
<line x1="442.5" y1="158.924" x2="442.5" y2="156.516" stroke="#111" stroke-width="0.6"/>
<line x1="441.2" y1="156.516" x2="443.8" y2="156.516" stroke="#111" stroke-width="0.6"/>
<rect x="435" y="158.924" width="15" height="18.575999999999993" fill="#000"/>
<line x1="461.5" y1="141.38" x2="461.5" y2="133.984" stroke="#111" stroke-width="0.6"/>
<line x1="460.2" y1="133.984" x2="462.8" y2="133.984" stroke="#111" stroke-width="0.6"/>
<rect x="454" y="141.38" width="15" height="36.120000000000005" fill="#000"/>
<line x1="480.5" y1="138.45600000000002" x2="480.5" y2="131.06" stroke="#111" stroke-width="0.6"/>
<line x1="479.2" y1="131.06" x2="481.8" y2="131.06" stroke="#111" stroke-width="0.6"/>
<rect x="473" y="138.45600000000002" width="15" height="39.04399999999998" fill="#000"/>
<text x="422.1" y="182" font-size="5" text-anchor="end" transform="rotate(-90 422.1 182)" textLength="23" lengthAdjust="spacingAndGlyphs" font-weight="bold" fill="#000" stroke="#000" stroke-width="0.2">Scramble</text>
<text x="427.6" y="182" font-size="5" text-anchor="end" transform="rotate(-90 427.6 182)" textLength="19.09" lengthAdjust="spacingAndGlyphs" font-weight="bold" fill="#000" stroke="#000" stroke-width="0.2">Control</text>
<text x="443.6" y="182" font-size="5" text-anchor="end" transform="rotate(-90 443.6 182)" textLength="24.610000000000003" lengthAdjust="spacingAndGlyphs" font-weight="bold" fill="#000" stroke="#000" stroke-width="0.2">Antisense</text>
<text x="459.6" y="182" font-size="5" text-anchor="end" transform="rotate(-90 459.6 182)" textLength="23" lengthAdjust="spacingAndGlyphs" font-weight="bold" fill="#000" stroke="#000" stroke-width="0.2">Scramble</text>
<text x="465.6" y="182" font-size="5" text-anchor="end" transform="rotate(-90 465.6 182)" textLength="19.09" lengthAdjust="spacingAndGlyphs" font-weight="bold" fill="#000" stroke="#000" stroke-width="0.2">Control</text>
<text x="482.6" y="182" font-size="5" text-anchor="end" transform="rotate(-90 482.6 182)" textLength="24.610000000000003" lengthAdjust="spacingAndGlyphs" font-weight="bold" fill="#000" stroke="#000" stroke-width="0.2">Antisense</text>
<line x1="416" y1="209.8" x2="445" y2="209.8" stroke="#111" stroke-width="0.55"/>
<line x1="455" y1="209.8" x2="484.7" y2="209.8" stroke="#111" stroke-width="0.55"/>
<text x="429.2" y="216.5" font-size="5" text-anchor="middle" textLength="16.2" lengthAdjust="spacingAndGlyphs" font-weight="bold" fill="#000" stroke="#000" stroke-width="0.2">- 2CdA</text>
<text x="470.2" y="216.5" font-size="5" text-anchor="middle" textLength="17" lengthAdjust="spacingAndGlyphs" font-weight="bold" fill="#000" stroke="#000" stroke-width="0.2">+ 2CdA</text>
<text x="469.8" y="221.6" font-size="5" text-anchor="middle" textLength="26.3" lengthAdjust="spacingAndGlyphs" font-weight="bold" fill="#000" stroke="#000" stroke-width="0.2">5000 ng/mL</text>
<text x="402.7" y="151" font-size="5" text-anchor="middle" transform="rotate(-90 402.7 151)" textLength="40.5" lengthAdjust="spacingAndGlyphs" font-weight="bold" fill="#000" stroke="#000" stroke-width="0.2">% apoptotic cells</text>
<line x1="20.5" y1="236.94" x2="20.5" y2="317" stroke="#6a6a6a" stroke-width="0.6"/>
<line x1="20.5" y1="317" x2="116.0" y2="317" stroke="#6a6a6a" stroke-width="0.6"/>
<line x1="19.2" y1="317.0" x2="20.5" y2="317.0" stroke="#666" stroke-width="0.5"/>
<text x="17.1" y="318.8" font-size="4.9" text-anchor="end" font-weight="bold" fill="#000" stroke="#000" stroke-width="0.2">0</text>
<line x1="19.2" y1="303.74" x2="20.5" y2="303.74" stroke="#666" stroke-width="0.5"/>
<text x="17.1" y="305.54" font-size="4.9" text-anchor="end" font-weight="bold" fill="#000" stroke="#000" stroke-width="0.2">0.2</text>
<line x1="19.2" y1="290.48" x2="20.5" y2="290.48" stroke="#666" stroke-width="0.5"/>
<text x="17.1" y="292.28000000000003" font-size="4.9" text-anchor="end" font-weight="bold" fill="#000" stroke="#000" stroke-width="0.2">0.4</text>
<line x1="19.2" y1="277.22" x2="20.5" y2="277.22" stroke="#666" stroke-width="0.5"/>
<text x="17.1" y="279.02000000000004" font-size="4.9" text-anchor="end" font-weight="bold" fill="#000" stroke="#000" stroke-width="0.2">0.6</text>
<line x1="19.2" y1="263.96" x2="20.5" y2="263.96" stroke="#666" stroke-width="0.5"/>
<text x="17.1" y="265.76" font-size="4.9" text-anchor="end" font-weight="bold" fill="#000" stroke="#000" stroke-width="0.2">0.8</text>
<line x1="19.2" y1="250.7" x2="20.5" y2="250.7" stroke="#666" stroke-width="0.5"/>
<text x="17.1" y="252.5" font-size="4.9" text-anchor="end" font-weight="bold" fill="#000" stroke="#000" stroke-width="0.2">1.0</text>
<line x1="19.2" y1="237.44" x2="20.5" y2="237.44" stroke="#666" stroke-width="0.5"/>
<text x="17.1" y="239.24" font-size="4.9" text-anchor="end" font-weight="bold" fill="#000" stroke="#000" stroke-width="0.2">1.2</text>
<line x1="20.5" y1="317" x2="20.5" y2="318.3" stroke="#000" stroke-width="0.6"/>
<text x="20.5" y="323" font-size="5" text-anchor="middle" font-weight="bold" fill="#000" stroke="#000" stroke-width="0.2">0</text>
<line x1="39.5" y1="317" x2="39.5" y2="318.3" stroke="#000" stroke-width="0.6"/>
<text x="39.5" y="323" font-size="5" text-anchor="middle" font-weight="bold" fill="#000" stroke="#000" stroke-width="0.2">0.2</text>
<line x1="58.5" y1="317" x2="58.5" y2="318.3" stroke="#000" stroke-width="0.6"/>
<text x="58.5" y="323" font-size="5" text-anchor="middle" font-weight="bold" fill="#000" stroke="#000" stroke-width="0.2">0.4</text>
<line x1="77.5" y1="317" x2="77.5" y2="318.3" stroke="#000" stroke-width="0.6"/>
<text x="77.5" y="323" font-size="5" text-anchor="middle" font-weight="bold" fill="#000" stroke="#000" stroke-width="0.2">0.6</text>
<line x1="96.5" y1="317" x2="96.5" y2="318.3" stroke="#000" stroke-width="0.6"/>
<text x="96.5" y="323" font-size="5" text-anchor="middle" font-weight="bold" fill="#000" stroke="#000" stroke-width="0.2">0.8</text>
<line x1="115.5" y1="317" x2="115.5" y2="318.3" stroke="#000" stroke-width="0.6"/>
<text x="115.5" y="323" font-size="5" text-anchor="middle" font-weight="bold" fill="#000" stroke="#000" stroke-width="0.2">1.0</text>
<line x1="20.5" y1="250.7" x2="116.0" y2="250.7" stroke="#999" stroke-width="0.6"/>
<circle cx="43.5" cy="302" r="1.45" fill="#000"/>
<circle cx="51.5" cy="307.5" r="1.45" fill="#000"/>
<circle cx="60" cy="290" r="1.45" fill="#000"/>
<circle cx="63" cy="295" r="1.45" fill="#000"/>
<circle cx="71.5" cy="291" r="1.45" fill="#000"/>
<circle cx="79.5" cy="301.5" r="1.45" fill="#000"/>
<text x="70" y="246" font-size="5.4" text-anchor="middle" textLength="31" lengthAdjust="spacingAndGlyphs" font-weight="bold" fill="#000" stroke="#000" stroke-width="0.2">Antagonism</text>
<text x="70" y="259.6" font-size="5.4" text-anchor="middle" textLength="27.5" lengthAdjust="spacingAndGlyphs" font-weight="bold" fill="#000" stroke="#000" stroke-width="0.2">Synergism</text>
<text x="67.5" y="328.3" font-size="5.2" text-anchor="middle" textLength="40" lengthAdjust="spacingAndGlyphs" font-weight="bold" fill="#000" stroke="#000" stroke-width="0.2">Fractional Effect</text>
<text x="5.3" y="278.5" font-size="5.1" text-anchor="middle" transform="rotate(-90 5.3 278.5)" textLength="45.5" lengthAdjust="spacingAndGlyphs" font-weight="bold" fill="#000" stroke="#000" stroke-width="0.2">Combination Index</text>
<line x1="147" y1="231.5" x2="147" y2="316" stroke="#6a6a6a" stroke-width="0.6"/>
<line x1="147" y1="316" x2="249.0" y2="316" stroke="#6a6a6a" stroke-width="0.6"/>
<line x1="145.7" y1="316" x2="147" y2="316" stroke="#666" stroke-width="0.5"/>
<text x="143.6" y="317.8" font-size="4.9" text-anchor="end" font-weight="bold" fill="#000" stroke="#000" stroke-width="0.2">0</text>
<line x1="145.7" y1="302.0" x2="147" y2="302.0" stroke="#666" stroke-width="0.5"/>
<text x="143.6" y="303.8" font-size="4.9" text-anchor="end" font-weight="bold" fill="#000" stroke="#000" stroke-width="0.2">0.2</text>
<line x1="145.7" y1="288.0" x2="147" y2="288.0" stroke="#666" stroke-width="0.5"/>
<text x="143.6" y="289.8" font-size="4.9" text-anchor="end" font-weight="bold" fill="#000" stroke="#000" stroke-width="0.2">0.4</text>
<line x1="145.7" y1="274.0" x2="147" y2="274.0" stroke="#666" stroke-width="0.5"/>
<text x="143.6" y="275.8" font-size="4.9" text-anchor="end" font-weight="bold" fill="#000" stroke="#000" stroke-width="0.2">0.6</text>
<line x1="145.7" y1="260.0" x2="147" y2="260.0" stroke="#666" stroke-width="0.5"/>
<text x="143.6" y="261.8" font-size="4.9" text-anchor="end" font-weight="bold" fill="#000" stroke="#000" stroke-width="0.2">0.8</text>
<line x1="145.7" y1="246.0" x2="147" y2="246.0" stroke="#666" stroke-width="0.5"/>
<text x="143.6" y="247.8" font-size="4.9" text-anchor="end" font-weight="bold" fill="#000" stroke="#000" stroke-width="0.2">1.0</text>
<line x1="145.7" y1="232.0" x2="147" y2="232.0" stroke="#666" stroke-width="0.5"/>
<text x="143.6" y="233.8" font-size="4.9" text-anchor="end" font-weight="bold" fill="#000" stroke="#000" stroke-width="0.2">1.2</text>
<line x1="147.0" y1="316" x2="147.0" y2="317.3" stroke="#000" stroke-width="0.6"/>
<text x="147.0" y="322" font-size="5" text-anchor="middle" font-weight="bold" fill="#000" stroke="#000" stroke-width="0.2">0</text>
<line x1="167.3" y1="316" x2="167.3" y2="317.3" stroke="#000" stroke-width="0.6"/>
<text x="167.3" y="322" font-size="5" text-anchor="middle" font-weight="bold" fill="#000" stroke="#000" stroke-width="0.2">0.2</text>
<line x1="187.6" y1="316" x2="187.6" y2="317.3" stroke="#000" stroke-width="0.6"/>
<text x="187.6" y="322" font-size="5" text-anchor="middle" font-weight="bold" fill="#000" stroke="#000" stroke-width="0.2">0.4</text>
<line x1="207.9" y1="316" x2="207.9" y2="317.3" stroke="#000" stroke-width="0.6"/>
<text x="207.9" y="322" font-size="5" text-anchor="middle" font-weight="bold" fill="#000" stroke="#000" stroke-width="0.2">0.6</text>
<line x1="228.2" y1="316" x2="228.2" y2="317.3" stroke="#000" stroke-width="0.6"/>
<text x="228.2" y="322" font-size="5" text-anchor="middle" font-weight="bold" fill="#000" stroke="#000" stroke-width="0.2">0.8</text>
<line x1="248.5" y1="316" x2="248.5" y2="317.3" stroke="#000" stroke-width="0.6"/>
<text x="248.5" y="322" font-size="5" text-anchor="middle" font-weight="bold" fill="#000" stroke="#000" stroke-width="0.2">1.0</text>
<line x1="147" y1="246.0" x2="249.0" y2="246.0" stroke="#999" stroke-width="0.6"/>
<circle cx="165.5" cy="273.5" r="1.45" fill="#000"/>
<circle cx="172.5" cy="292" r="1.45" fill="#000"/>
<circle cx="180.5" cy="282" r="1.45" fill="#000"/>
<circle cx="183.5" cy="286" r="1.45" fill="#000"/>
<circle cx="202.5" cy="287" r="1.45" fill="#000"/>
<circle cx="204.5" cy="261.5" r="1.45" fill="#000"/>
<text x="181" y="241.3" font-size="5.4" text-anchor="middle" textLength="31.5" lengthAdjust="spacingAndGlyphs" font-weight="bold" fill="#000" stroke="#000" stroke-width="0.2">Antagonism</text>
<text x="180" y="255.6" font-size="5.4" text-anchor="middle" textLength="27.5" lengthAdjust="spacingAndGlyphs" font-weight="bold" fill="#000" stroke="#000" stroke-width="0.2">Synergism</text>
<text x="197.5" y="328.3" font-size="5.2" text-anchor="middle" textLength="42" lengthAdjust="spacingAndGlyphs" font-weight="bold" fill="#000" stroke="#000" stroke-width="0.2">Fractional Effect</text>
<text x="133.3" y="276.5" font-size="5.1" text-anchor="middle" transform="rotate(-90 133.3 276.5)" textLength="48.5" lengthAdjust="spacingAndGlyphs" font-weight="bold" fill="#000" stroke="#000" stroke-width="0.2">Combination Index</text>
<line x1="284.5" y1="234.4" x2="284.5" y2="316.5" stroke="#6a6a6a" stroke-width="0.6"/>
<line x1="284.5" y1="316.5" x2="383.5" y2="316.5" stroke="#6a6a6a" stroke-width="0.6"/>
<line x1="283.2" y1="316.5" x2="284.5" y2="316.5" stroke="#666" stroke-width="0.5"/>
<text x="281.1" y="318.3" font-size="4.9" text-anchor="end" font-weight="bold" fill="#000" stroke="#000" stroke-width="0.2">0</text>
<line x1="283.2" y1="302.9" x2="284.5" y2="302.9" stroke="#666" stroke-width="0.5"/>
<text x="281.1" y="304.7" font-size="4.9" text-anchor="end" font-weight="bold" fill="#000" stroke="#000" stroke-width="0.2">0.2</text>
<line x1="283.2" y1="289.3" x2="284.5" y2="289.3" stroke="#666" stroke-width="0.5"/>
<text x="281.1" y="291.1" font-size="4.9" text-anchor="end" font-weight="bold" fill="#000" stroke="#000" stroke-width="0.2">0.4</text>
<line x1="283.2" y1="275.7" x2="284.5" y2="275.7" stroke="#666" stroke-width="0.5"/>
<text x="281.1" y="277.5" font-size="4.9" text-anchor="end" font-weight="bold" fill="#000" stroke="#000" stroke-width="0.2">0.6</text>
<line x1="283.2" y1="262.1" x2="284.5" y2="262.1" stroke="#666" stroke-width="0.5"/>
<text x="281.1" y="263.90000000000003" font-size="4.9" text-anchor="end" font-weight="bold" fill="#000" stroke="#000" stroke-width="0.2">0.8</text>
<line x1="283.2" y1="248.5" x2="284.5" y2="248.5" stroke="#666" stroke-width="0.5"/>
<text x="281.1" y="250.3" font-size="4.9" text-anchor="end" font-weight="bold" fill="#000" stroke="#000" stroke-width="0.2">1.0</text>
<line x1="283.2" y1="234.9" x2="284.5" y2="234.9" stroke="#666" stroke-width="0.5"/>
<text x="281.1" y="236.70000000000002" font-size="4.9" text-anchor="end" font-weight="bold" fill="#000" stroke="#000" stroke-width="0.2">1.2</text>
<line x1="284.5" y1="316.5" x2="284.5" y2="317.8" stroke="#000" stroke-width="0.6"/>
<text x="284.5" y="322.5" font-size="5" text-anchor="middle" font-weight="bold" fill="#000" stroke="#000" stroke-width="0.2">0</text>
<line x1="304.2" y1="316.5" x2="304.2" y2="317.8" stroke="#000" stroke-width="0.6"/>
<text x="304.2" y="322.5" font-size="5" text-anchor="middle" font-weight="bold" fill="#000" stroke="#000" stroke-width="0.2">0.2</text>
<line x1="323.9" y1="316.5" x2="323.9" y2="317.8" stroke="#000" stroke-width="0.6"/>
<text x="323.9" y="322.5" font-size="5" text-anchor="middle" font-weight="bold" fill="#000" stroke="#000" stroke-width="0.2">0.4</text>
<line x1="343.6" y1="316.5" x2="343.6" y2="317.8" stroke="#000" stroke-width="0.6"/>
<text x="343.6" y="322.5" font-size="5" text-anchor="middle" font-weight="bold" fill="#000" stroke="#000" stroke-width="0.2">0.6</text>
<line x1="363.3" y1="316.5" x2="363.3" y2="317.8" stroke="#000" stroke-width="0.6"/>
<text x="363.3" y="322.5" font-size="5" text-anchor="middle" font-weight="bold" fill="#000" stroke="#000" stroke-width="0.2">0.8</text>
<line x1="383.0" y1="316.5" x2="383.0" y2="317.8" stroke="#000" stroke-width="0.6"/>
<text x="383.0" y="322.5" font-size="5" text-anchor="middle" font-weight="bold" fill="#000" stroke="#000" stroke-width="0.2">1.0</text>
<line x1="284.5" y1="248.5" x2="383.5" y2="248.5" stroke="#999" stroke-width="0.6"/>
<circle cx="303" cy="278.5" r="1.45" fill="#000"/>
<circle cx="306.5" cy="284" r="1.45" fill="#000"/>
<circle cx="316.5" cy="298.5" r="1.45" fill="#000"/>
<circle cx="321.5" cy="304" r="1.45" fill="#000"/>
<circle cx="325.5" cy="301.5" r="1.45" fill="#000"/>
<circle cx="333" cy="308.5" r="1.45" fill="#000"/>
<text x="328" y="242.8" font-size="5.4" text-anchor="middle" textLength="30" lengthAdjust="spacingAndGlyphs" font-weight="bold" fill="#000" stroke="#000" stroke-width="0.2">Antagonism</text>
<text x="327" y="258.2" font-size="5.4" text-anchor="middle" textLength="27" lengthAdjust="spacingAndGlyphs" font-weight="bold" fill="#000" stroke="#000" stroke-width="0.2">Synergism</text>
<text x="333" y="329" font-size="5.2" text-anchor="middle" textLength="41" lengthAdjust="spacingAndGlyphs" font-weight="bold" fill="#000" stroke="#000" stroke-width="0.2">Fractional Effect</text>
<text x="269.8" y="277.3" font-size="5.1" text-anchor="middle" transform="rotate(-90 269.8 277.3)" textLength="45.5" lengthAdjust="spacingAndGlyphs" font-weight="bold" fill="#000" stroke="#000" stroke-width="0.2">Combination Index</text>
<line x1="417.5" y1="247.0" x2="417.5" y2="316" stroke="#6a6a6a" stroke-width="0.6"/>
<line x1="417.5" y1="316" x2="518.0" y2="316" stroke="#6a6a6a" stroke-width="0.6"/>
<line x1="416.2" y1="316.0" x2="417.5" y2="316.0" stroke="#666" stroke-width="0.5"/>
<text x="414.1" y="317.8" font-size="4.9" text-anchor="end" font-weight="bold" fill="#000" stroke="#000" stroke-width="0.2">0</text>
<line x1="416.2" y1="302.3" x2="417.5" y2="302.3" stroke="#666" stroke-width="0.5"/>
<text x="414.1" y="304.1" font-size="4.9" text-anchor="end" font-weight="bold" fill="#000" stroke="#000" stroke-width="0.2">2</text>
<line x1="416.2" y1="288.6" x2="417.5" y2="288.6" stroke="#666" stroke-width="0.5"/>
<text x="414.1" y="290.40000000000003" font-size="4.9" text-anchor="end" font-weight="bold" fill="#000" stroke="#000" stroke-width="0.2">4</text>
<line x1="416.2" y1="274.9" x2="417.5" y2="274.9" stroke="#666" stroke-width="0.5"/>
<text x="414.1" y="276.7" font-size="4.9" text-anchor="end" font-weight="bold" fill="#000" stroke="#000" stroke-width="0.2">6</text>
<line x1="416.2" y1="261.2" x2="417.5" y2="261.2" stroke="#666" stroke-width="0.5"/>
<text x="414.1" y="263.0" font-size="4.9" text-anchor="end" font-weight="bold" fill="#000" stroke="#000" stroke-width="0.2">8</text>
<line x1="416.2" y1="247.5" x2="417.5" y2="247.5" stroke="#666" stroke-width="0.5"/>
<text x="414.1" y="249.3" font-size="4.9" text-anchor="end" font-weight="bold" fill="#000" stroke="#000" stroke-width="0.2">10</text>
<line x1="417.5" y1="316" x2="417.5" y2="317.3" stroke="#000" stroke-width="0.6"/>
<text x="417.5" y="322" font-size="5" text-anchor="middle" font-weight="bold" fill="#000" stroke="#000" stroke-width="0.2">0</text>
<line x1="437.5" y1="316" x2="437.5" y2="317.3" stroke="#000" stroke-width="0.6"/>
<text x="437.5" y="322" font-size="5" text-anchor="middle" font-weight="bold" fill="#000" stroke="#000" stroke-width="0.2">0.2</text>
<line x1="457.5" y1="316" x2="457.5" y2="317.3" stroke="#000" stroke-width="0.6"/>
<text x="457.5" y="322" font-size="5" text-anchor="middle" font-weight="bold" fill="#000" stroke="#000" stroke-width="0.2">0.4</text>
<line x1="477.5" y1="316" x2="477.5" y2="317.3" stroke="#000" stroke-width="0.6"/>
<text x="477.5" y="322" font-size="5" text-anchor="middle" font-weight="bold" fill="#000" stroke="#000" stroke-width="0.2">0.6</text>
<line x1="497.5" y1="316" x2="497.5" y2="317.3" stroke="#000" stroke-width="0.6"/>
<text x="497.5" y="322" font-size="5" text-anchor="middle" font-weight="bold" fill="#000" stroke="#000" stroke-width="0.2">0.8</text>
<line x1="517.5" y1="316" x2="517.5" y2="317.3" stroke="#000" stroke-width="0.6"/>
<text x="517.5" y="322" font-size="5" text-anchor="middle" font-weight="bold" fill="#000" stroke="#000" stroke-width="0.2">1.0</text>
<line x1="417.5" y1="309.15" x2="518.0" y2="309.15" stroke="#999" stroke-width="0.6"/>
<circle cx="424" cy="254" r="1.45" fill="#000"/>
<circle cx="428.5" cy="295.5" r="1.45" fill="#000"/>
<circle cx="433" cy="301" r="1.45" fill="#000"/>
<circle cx="432" cy="306.5" r="1.45" fill="#000"/>
<circle cx="429.5" cy="308.5" r="1.45" fill="#000"/>
<circle cx="437.5" cy="310.5" r="1.45" fill="#000"/>
<text x="467.5" y="307.3" font-size="5.4" text-anchor="middle" textLength="31" lengthAdjust="spacingAndGlyphs" font-weight="bold" fill="#000" stroke="#000" stroke-width="0.2">Antagonism</text>
<text x="465.5" y="314.3" font-size="5.4" text-anchor="middle" textLength="27" lengthAdjust="spacingAndGlyphs" font-weight="bold" fill="#000" stroke="#000" stroke-width="0.2">Synergism</text>
<text x="466" y="328.3" font-size="5.2" text-anchor="middle" textLength="41" lengthAdjust="spacingAndGlyphs" font-weight="bold" fill="#000" stroke="#000" stroke-width="0.2">Fractional Effect</text>
<text x="403.3" y="279.5" font-size="5.1" text-anchor="middle" transform="rotate(-90 403.3 279.5)" textLength="47" lengthAdjust="spacingAndGlyphs" font-weight="bold" fill="#000" stroke="#000" stroke-width="0.2">Combination Index</text>
</g>
</svg>
</body></html>
